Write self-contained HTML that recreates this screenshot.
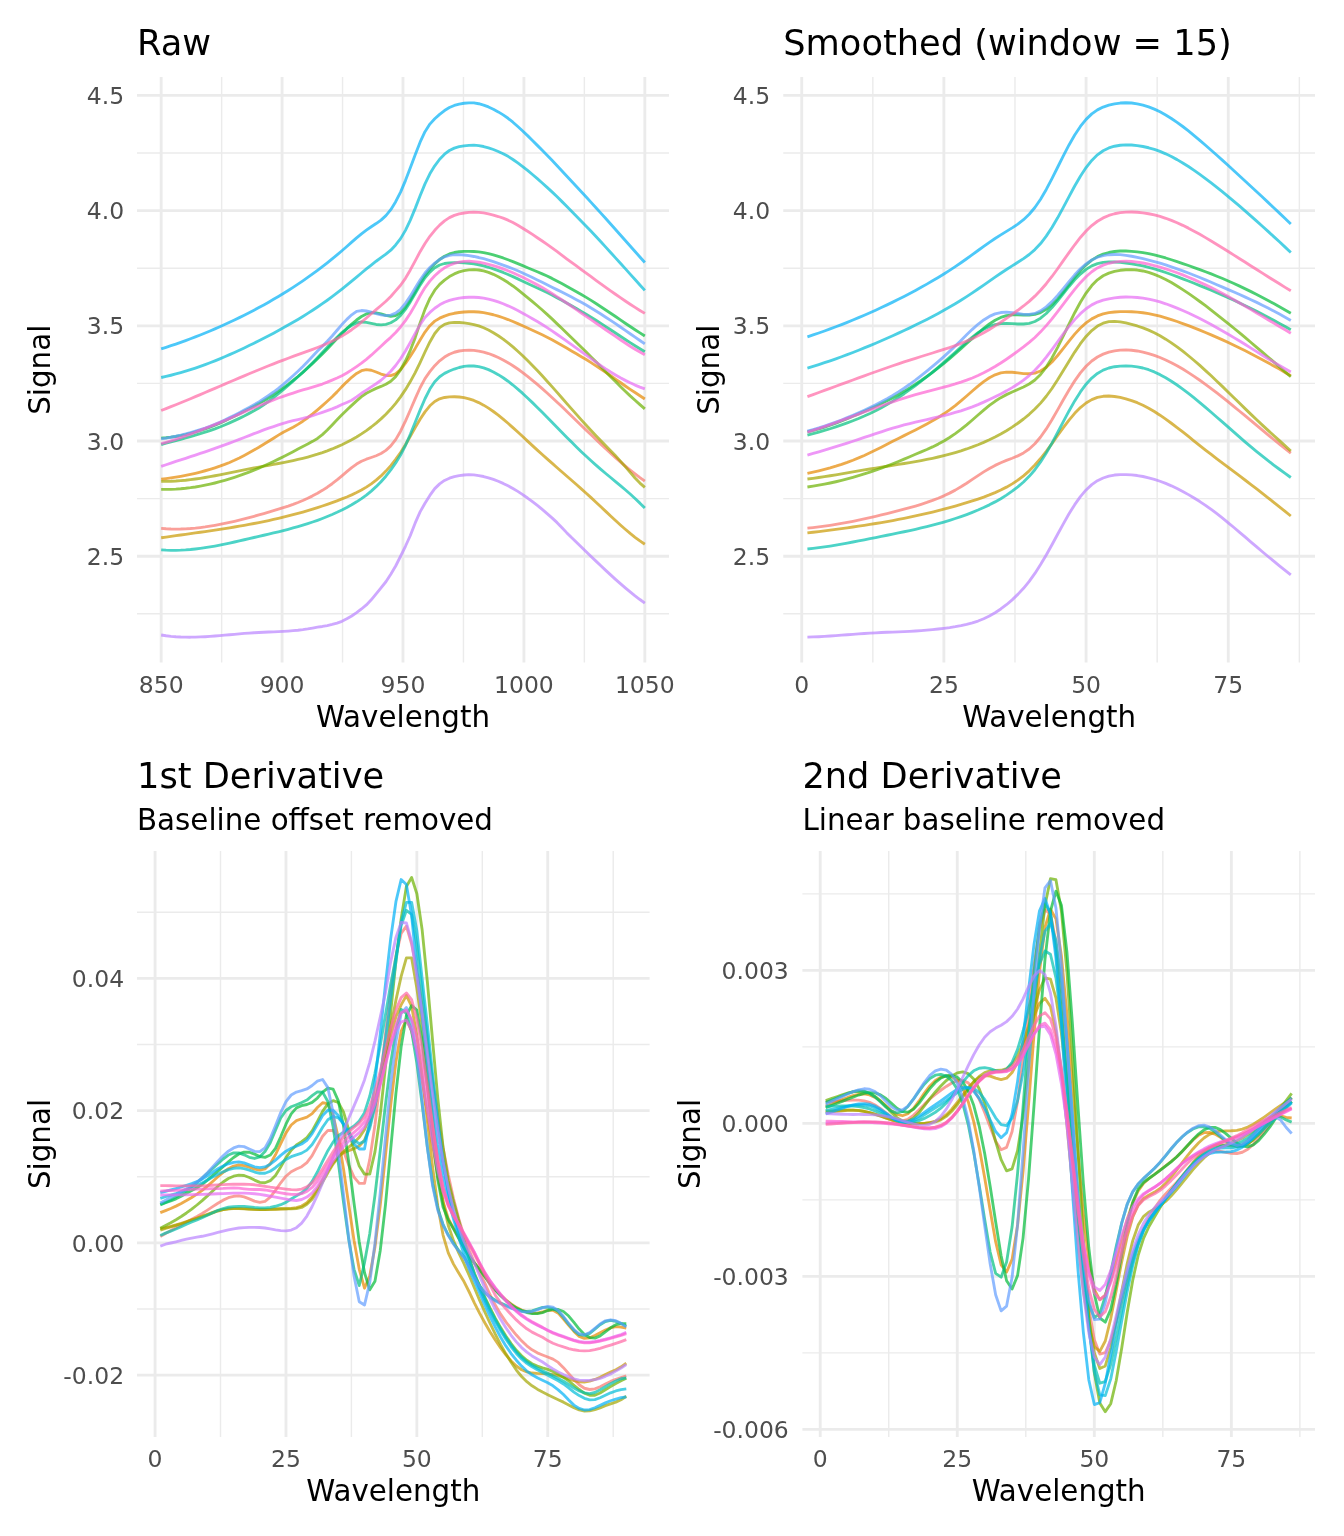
<!DOCTYPE html>
<html lang="en">
<head>
<meta charset="utf-8">
<title>Spectral preprocessing</title>
<style>
html,body{margin:0;padding:0;background:#fff;}
body{width:1344px;height:1536px;overflow:hidden;}
svg{display:block;}
text{font-family:"DejaVu Sans", "Liberation Sans", sans-serif;}
.t{font-size:35.2px;fill:#000;}
.st{font-size:29.33px;fill:#000;}
.at{font-size:29.33px;fill:#000;}
.ax{font-size:23.47px;fill:#4D4D4D;}
.gM{stroke:#EBEBEB;stroke-width:2.85;fill:none;}
.gm{stroke:#EBEBEB;stroke-width:1.42;fill:none;}
.ln{fill:none;stroke-width:2.85;stroke-opacity:0.7;stroke-linejoin:round;stroke-linecap:butt;}
</style>
</head>
<body>
<svg width="1344" height="1536" viewBox="0 0 1344 1536">
<rect width="1344" height="1536" fill="#fff"/>
<g id="raw">
<path class="gm" d="M137 613.8H669M137 498.6H669M137 383.4H669M137 268.2H669M137 153H669M221.64 77V662.5M342.55 77V662.5M463.45 77V662.5M584.36 77V662.5"/>
<path class="gM" d="M137 556.2H669M137 441H669M137 325.8H669M137 210.6H669M137 95.4H669M161.18 77V662.5M282.09 77V662.5M403 77V662.5M523.91 77V662.5M644.82 77V662.5"/>
<polyline class="ln" stroke="#F8766D" points="161.18,528.42 166.07,528.78 170.95,529 175.84,529.07 180.72,529.01 185.61,528.82 190.49,528.51 195.38,528.09 200.26,527.55 205.15,526.92 210.03,526.18 214.92,525.36 219.8,524.45 224.69,523.47 229.57,522.41 234.46,521.29 239.35,520.1 244.23,518.87 249.12,517.58 254,516.26 258.89,514.9 263.77,513.51 268.66,512.1 273.54,510.67 278.43,509.2 283.31,507.66 288.2,506.05 293.08,504.32 297.97,502.46 302.85,500.45 307.74,498.25 312.62,495.85 317.51,493.22 322.39,490.34 327.28,487.19 332.16,483.73 337.05,479.95 341.93,475.87 346.82,471.68 351.71,467.67 356.59,464.1 361.48,461.26 366.36,459.19 371.25,457.49 376.13,455.73 381.02,453.5 385.9,450.35 390.79,445.86 395.67,439.6 400.56,431.22 405.44,421.1 410.33,409.98 415.21,398.63 420.1,387.77 424.98,378.64 429.87,371.63 434.75,365.65 439.64,360.77 444.52,357.02 449.41,354.22 454.29,352.25 459.18,351 464.07,350.35 468.95,350.17 473.84,350.4 478.72,351.04 483.61,352.08 488.49,353.51 493.38,355.34 498.26,357.5 503.15,359.96 508.03,362.7 512.92,365.72 517.8,369.01 522.69,372.57 527.57,376.36 532.46,380.32 537.34,384.42 542.23,388.65 547.11,392.99 552,397.44 556.88,401.97 561.77,406.58 566.65,411.24 571.54,415.94 576.43,420.66 581.31,425.4 586.2,430.13 591.08,434.84 595.97,439.52 600.85,444.15 605.74,448.72 610.62,453.21 615.51,457.6 620.39,461.88 625.28,466.04 630.16,470.06 635.05,473.93 639.93,477.62 644.82,481.14"/>
<polyline class="ln" stroke="#E58700" points="161.18,479.19 166.07,478.62 170.95,477.96 175.84,477.21 180.72,476.37 185.61,475.43 190.49,474.41 195.38,473.29 200.26,472.07 205.15,470.75 210.03,469.33 214.92,467.81 219.8,466.19 224.69,464.44 229.57,462.47 234.46,460.3 239.35,457.95 244.23,455.45 249.12,452.83 254,450.11 258.89,447.31 263.77,444.34 268.66,441.27 273.54,438.2 278.43,435.16 283.31,432.25 288.2,429.68 293.08,427.18 297.97,424.37 302.85,421.2 307.74,417.74 312.62,413.88 317.51,409.81 322.39,405.61 327.28,401.26 332.16,396.76 337.05,391.87 341.93,386.61 346.82,381.83 351.71,377.32 356.59,373.4 361.48,370.7 366.36,369.7 371.25,370.27 376.13,371.98 381.02,374.04 385.9,375.47 390.79,375.66 395.67,373.84 400.56,369.54 405.44,363.43 410.33,356.23 415.21,348.4 420.1,339.99 424.98,332.06 429.87,325.72 434.75,321.13 439.64,318.18 444.52,316.09 449.41,314.47 454.29,313.28 459.18,312.47 464.07,311.98 468.95,311.72 473.84,311.72 478.72,312.03 483.61,312.67 488.49,313.59 493.38,314.75 498.26,316.14 503.15,317.75 508.03,319.55 512.92,321.5 517.8,323.6 522.69,325.79 527.57,328.03 532.46,330.25 537.34,332.5 542.23,334.8 547.11,337.21 552,339.77 556.88,342.5 561.77,345.28 566.65,348.08 571.54,350.91 576.43,353.77 581.31,356.65 586.2,359.58 591.08,362.64 595.97,365.82 600.85,369.1 605.74,372.43 610.62,375.79 615.51,379.12 620.39,382.52 625.28,385.96 630.16,389.31 635.05,392.54 639.93,395.78 644.82,399.04"/>
<polyline class="ln" stroke="#C99800" points="161.18,537.76 166.07,537.06 170.95,536.37 175.84,535.69 180.72,535.01 185.61,534.32 190.49,533.64 195.38,532.95 200.26,532.25 205.15,531.55 210.03,530.83 214.92,530.1 219.8,529.36 224.69,528.59 229.57,527.81 234.46,527 239.35,526.17 244.23,525.31 249.12,524.42 254,523.5 258.89,522.55 263.77,521.56 268.66,520.53 273.54,519.46 278.43,518.34 283.31,517.19 288.2,515.98 293.08,514.72 297.97,513.41 302.85,512.05 307.74,510.63 312.62,509.15 317.51,507.61 322.39,506.01 327.28,504.34 332.16,502.6 337.05,500.79 341.93,498.91 346.82,496.95 351.71,494.86 356.59,492.57 361.48,490.01 366.36,487.14 371.25,483.87 376.13,480.15 381.02,475.91 385.9,471.08 390.79,465.61 395.67,459.43 400.56,452.46 405.44,444.67 410.33,436.22 415.21,427.6 420.1,419.32 424.98,411.87 429.87,405.77 434.75,401.46 439.64,398.85 444.52,397.48 449.41,396.89 454.29,396.73 459.18,396.97 464.07,397.66 468.95,398.8 473.84,400.44 478.72,402.58 483.61,405.16 488.49,408.16 493.38,411.51 498.26,415.18 503.15,419.11 508.03,423.26 512.92,427.58 517.8,432.03 522.69,436.55 527.57,441.11 532.46,445.65 537.34,450.13 542.23,454.54 547.11,458.89 552,463.19 556.88,467.47 561.77,471.72 566.65,475.98 571.54,480.24 576.43,484.52 581.31,488.85 586.2,493.22 591.08,497.66 595.97,502.18 600.85,506.76 605.74,511.37 610.62,515.97 615.51,520.51 620.39,524.96 625.28,529.26 630.16,533.38 635.05,537.28 639.93,540.91 644.82,544.24"/>
<polyline class="ln" stroke="#A3A500" points="161.18,481.31 166.07,481.35 170.95,481.25 175.84,481.02 180.72,480.67 185.61,480.22 190.49,479.66 195.38,479.02 200.26,478.29 205.15,477.5 210.03,476.65 214.92,475.75 219.8,474.81 224.69,473.85 229.57,472.86 234.46,471.86 239.35,470.87 244.23,469.89 249.12,468.92 254,467.99 258.89,467.09 263.77,466.2 268.66,465.31 273.54,464.42 278.43,463.51 283.31,462.57 288.2,461.59 293.08,460.55 297.97,459.45 302.85,458.28 307.74,457.01 312.62,455.64 317.51,454.17 322.39,452.57 327.28,450.83 332.16,448.95 337.05,446.92 341.93,444.71 346.82,442.32 351.71,439.74 356.59,436.93 361.48,433.88 366.36,430.58 371.25,426.99 376.13,423.1 381.02,418.88 385.9,414.22 390.79,409.06 395.67,403.31 400.56,396.86 405.44,389.65 410.33,381.58 415.21,372.57 420.1,362.54 424.98,351.98 429.87,341.94 434.75,333.52 439.64,327.68 444.52,324.33 449.41,322.8 454.29,322.42 459.18,322.53 464.07,322.89 468.95,323.55 473.84,324.55 478.72,325.95 483.61,327.78 488.49,330.05 493.38,332.72 498.26,335.76 503.15,339.16 508.03,342.89 512.92,346.91 517.8,351.21 522.69,355.74 527.57,360.5 532.46,365.45 537.34,370.57 542.23,375.83 547.11,381.2 552,386.66 556.88,392.18 561.77,397.74 566.65,403.32 571.54,408.89 576.43,414.42 581.31,419.89 586.2,425.27 591.08,430.54 595.97,435.68 600.85,440.7 605.74,445.68 610.62,450.69 615.51,455.81 620.39,461.11 625.28,466.67 630.16,472.4 635.05,477.99 639.93,483.07 644.82,487.31"/>
<polyline class="ln" stroke="#6BB100" points="161.18,489.42 166.07,489.44 170.95,489.34 175.84,489.11 180.72,488.76 185.61,488.28 190.49,487.69 195.38,486.98 200.26,486.15 205.15,485.21 210.03,484.16 214.92,483 219.8,481.74 224.69,480.37 229.57,478.9 234.46,477.33 239.35,475.67 244.23,473.91 249.12,472.06 254,470.12 258.89,468.09 263.77,465.98 268.66,463.78 273.54,461.51 278.43,459.15 283.31,456.72 288.2,454.22 293.08,451.64 297.97,449 302.85,446.43 307.74,444.05 312.62,441.37 317.51,438.42 322.39,434.6 327.28,429.98 332.16,424.89 337.05,419.84 341.93,414.78 346.82,409.97 351.71,405.4 356.59,400.9 361.48,396.69 366.36,393.24 371.25,390.74 376.13,388.38 381.02,386.45 385.9,384.23 390.79,381.2 395.67,376.6 400.56,369.81 405.44,361.04 410.33,350.33 415.21,337.66 420.1,322.86 424.98,309.36 429.87,298.39 434.75,290.17 439.64,284.43 444.52,280.08 449.41,276.58 454.29,273.89 459.18,271.92 464.07,270.6 468.95,269.84 473.84,269.61 478.72,269.98 483.61,270.93 488.49,272.39 493.38,274.32 498.26,276.68 503.15,279.44 508.03,282.55 512.92,285.97 517.8,289.64 522.69,293.53 527.57,297.56 532.46,301.63 537.34,305.78 542.23,310.03 547.11,314.39 552,318.91 556.88,323.6 561.77,328.33 566.65,333.07 571.54,337.81 576.43,342.57 581.31,347.32 586.2,352.08 591.08,356.93 595.97,361.86 600.85,366.83 605.74,371.81 610.62,376.74 615.51,381.59 620.39,386.42 625.28,391.22 630.16,395.85 635.05,400.27 639.93,404.6 644.82,408.86"/>
<polyline class="ln" stroke="#00BA38" points="161.18,438.18 166.07,437.76 170.95,437.2 175.84,436.48 180.72,435.59 185.61,434.53 190.49,433.3 195.38,431.93 200.26,430.44 205.15,428.84 210.03,427.09 214.92,425.19 219.8,423.12 224.69,420.88 229.57,418.56 234.46,416.18 239.35,413.74 244.23,411.26 249.12,408.75 254,406.21 258.89,403.61 263.77,400.73 268.66,397.74 273.54,394.69 278.43,391.41 283.31,387.92 288.2,384.28 293.08,380.46 297.97,376.49 302.85,372.34 307.74,367.98 312.62,363.42 317.51,358.69 322.39,353.87 327.28,348.94 332.16,343.83 337.05,338.59 341.93,333.53 346.82,328.65 351.71,324.06 356.59,319.98 361.48,316.52 366.36,313.91 371.25,312.77 376.13,312.84 381.02,313.97 385.9,315.4 390.79,316.24 395.67,315.63 400.56,312.73 405.44,307.32 410.33,300.08 415.21,291.73 420.1,283.05 424.98,275.3 429.87,269.14 434.75,263.86 439.64,259.49 444.52,256.2 449.41,253.93 454.29,252.51 459.18,251.74 464.07,251.41 468.95,251.33 473.84,251.48 478.72,251.93 483.61,252.69 488.49,253.69 493.38,254.92 498.26,256.35 503.15,257.97 508.03,259.74 512.92,261.63 517.8,263.63 522.69,265.68 527.57,267.74 532.46,269.74 537.34,271.75 542.23,273.83 547.11,276.02 552,278.39 556.88,280.95 561.77,283.57 566.65,286.24 571.54,288.96 576.43,291.71 581.31,294.51 586.2,297.36 591.08,300.35 595.97,303.47 600.85,306.69 605.74,309.97 610.62,313.27 615.51,316.55 620.39,319.89 625.28,323.26 630.16,326.55 635.05,329.7 639.93,332.84 644.82,336.01"/>
<polyline class="ln" stroke="#00BF7D" points="161.18,444.52 166.07,443.17 170.95,441.86 175.84,440.56 180.72,439.25 185.61,437.91 190.49,436.51 195.38,435.09 200.26,433.64 205.15,432.14 210.03,430.55 214.92,428.84 219.8,426.98 224.69,424.96 229.57,422.85 234.46,420.64 239.35,418.34 244.23,415.92 249.12,413.39 254,410.74 258.89,407.94 263.77,404.77 268.66,401.26 273.54,397.51 278.43,393.59 283.31,389.59 288.2,385.46 293.08,381.17 297.97,376.77 302.85,372.23 307.74,367.52 312.62,362.68 317.51,357.71 322.39,352.54 327.28,347.31 332.16,342.15 337.05,337.2 341.93,332.61 346.82,328.54 351.71,325.22 356.59,322.94 361.48,321.96 366.36,322.34 371.25,323.43 376.13,324.46 381.02,324.85 385.9,324.34 390.79,322.75 395.67,319.86 400.56,315.48 405.44,309.42 410.33,301.88 415.21,293.53 420.1,285.09 424.98,277.73 429.87,272.06 434.75,267.79 439.64,265.01 444.52,263.5 449.41,262.82 454.29,262.55 459.18,262.57 464.07,262.83 468.95,263.26 473.84,263.87 478.72,264.75 483.61,265.89 488.49,267.26 493.38,268.81 498.26,270.55 503.15,272.45 508.03,274.49 512.92,276.65 517.8,278.89 522.69,281.18 527.57,283.48 532.46,285.72 537.34,287.94 542.23,290.19 547.11,292.53 552,295.02 556.88,297.68 561.77,300.37 566.65,303.09 571.54,305.83 576.43,308.6 581.31,311.38 586.2,314.2 591.08,317.15 595.97,320.22 600.85,323.37 605.74,326.57 610.62,329.78 615.51,332.97 620.39,336.21 625.28,339.47 630.16,342.65 635.05,345.68 639.93,348.72 644.82,351.77"/>
<polyline class="ln" stroke="#00C0AF" points="161.18,549.85 166.07,550.16 170.95,550.32 175.84,550.33 180.72,550.19 185.61,549.92 190.49,549.52 195.38,549.01 200.26,548.4 205.15,547.7 210.03,546.9 214.92,546.04 219.8,545.1 224.69,544.11 229.57,543.07 234.46,541.99 239.35,540.89 244.23,539.76 249.12,538.63 254,537.49 258.89,536.36 263.77,535.24 268.66,534.1 273.54,532.95 278.43,531.77 283.31,530.55 288.2,529.29 293.08,527.98 297.97,526.61 302.85,525.16 307.74,523.64 312.62,522.02 317.51,520.31 322.39,518.49 327.28,516.55 332.16,514.49 337.05,512.29 341.93,509.95 346.82,507.46 351.71,504.77 356.59,501.83 361.48,498.6 366.36,495.04 371.25,491.08 376.13,486.68 381.02,481.74 385.9,476.19 390.79,469.94 395.67,462.93 400.56,455 405.44,445.51 410.33,434.34 415.21,422.25 420.1,410.11 424.98,398.76 429.87,389.05 434.75,381.75 439.64,376.75 444.52,373.4 449.41,370.99 454.29,369.04 459.18,367.5 464.07,366.44 468.95,365.92 473.84,365.98 478.72,366.64 483.61,367.89 488.49,369.66 493.38,371.92 498.26,374.63 503.15,377.75 508.03,381.23 512.92,385.03 517.8,389.12 522.69,393.44 527.57,397.96 532.46,402.63 537.34,407.42 542.23,412.29 547.11,417.23 552,422.2 556.88,427.19 561.77,432.18 566.65,437.14 571.54,442.06 576.43,446.9 581.31,451.66 586.2,456.3 591.08,460.81 595.97,465.17 600.85,469.37 605.74,473.47 610.62,477.52 615.51,481.55 620.39,485.62 625.28,489.76 630.16,494.04 635.05,498.48 639.93,503.14 644.82,508.06"/>
<polyline class="ln" stroke="#00BCD8" points="161.18,377.5 166.07,376.42 170.95,375.25 175.84,373.98 180.72,372.63 185.61,371.18 190.49,369.65 195.38,368.03 200.26,366.34 205.15,364.57 210.03,362.72 214.92,360.8 219.8,358.81 224.69,356.76 229.57,354.64 234.46,352.46 239.35,350.22 244.23,347.93 249.12,345.58 254,343.18 258.89,340.73 263.77,338.24 268.66,335.71 273.54,333.14 278.43,330.51 283.31,327.83 288.2,325.09 293.08,322.28 297.97,319.4 302.85,316.44 307.74,313.39 312.62,310.25 317.51,307.02 322.39,303.67 327.28,300.22 332.16,296.66 337.05,292.97 341.93,289.15 346.82,285.2 351.71,281.16 356.59,277.07 361.48,272.99 366.36,268.96 371.25,265.02 376.13,261.23 381.02,257.64 385.9,254.17 390.79,250.2 395.67,244.94 400.56,238.64 405.44,230.35 410.33,220.13 415.21,208.36 420.1,195.75 424.98,183.86 429.87,173.82 434.75,165.8 439.64,159.27 444.52,154.16 449.41,150.51 454.29,148.14 459.18,146.7 464.07,145.87 468.95,145.3 473.84,145.15 478.72,145.6 483.61,146.52 488.49,147.84 493.38,149.52 498.26,151.47 503.15,153.71 508.03,156.37 512.92,159.49 517.8,162.95 522.69,166.63 527.57,170.47 532.46,174.51 537.34,178.68 542.23,182.96 547.11,187.35 552,191.87 556.88,196.54 561.77,201.38 566.65,206.3 571.54,211.21 576.43,216.13 581.31,221.13 586.2,226.2 591.08,231.35 595.97,236.56 600.85,241.82 605.74,247.12 610.62,252.47 615.51,257.85 620.39,263.25 625.28,268.67 630.16,274.1 635.05,279.54 639.93,284.96 644.82,290.38"/>
<polyline class="ln" stroke="#00B0F6" points="161.18,348.9 166.07,347.33 170.95,345.71 175.84,344.04 180.72,342.32 185.61,340.56 190.49,338.75 195.38,336.88 200.26,334.96 205.15,332.99 210.03,330.97 214.92,328.89 219.8,326.76 224.69,324.57 229.57,322.32 234.46,320.01 239.35,317.64 244.23,315.22 249.12,312.73 254,310.18 258.89,307.56 263.77,304.88 268.66,302.14 273.54,299.33 278.43,296.45 283.31,293.49 288.2,290.45 293.08,287.33 297.97,284.12 302.85,280.83 307.74,277.44 312.62,273.95 317.51,270.35 322.39,266.66 327.28,262.85 332.16,258.93 337.05,254.89 341.93,250.73 346.82,246.46 351.71,242.15 356.59,237.91 361.48,233.86 366.36,230.1 371.25,226.73 376.13,223.57 381.02,220.07 385.9,215.64 390.79,209.71 395.67,201.7 400.56,192.1 405.44,180.57 410.33,167.77 415.21,154.65 420.1,142.17 424.98,131.71 429.87,124.1 434.75,118.77 439.64,114.34 444.52,110.52 449.41,107.56 454.29,105.47 459.18,104.09 464.07,103.27 468.95,102.83 473.84,102.92 478.72,103.72 483.61,105.09 488.49,106.95 493.38,109.24 498.26,111.88 503.15,114.85 508.03,118.28 512.92,122.2 517.8,126.48 522.69,130.98 527.57,135.65 532.46,140.47 537.34,145.37 542.23,150.31 547.11,155.3 552,160.35 556.88,165.5 561.77,170.76 566.65,176.06 571.54,181.3 576.43,186.5 581.31,191.75 586.2,197.04 591.08,202.37 595.97,207.74 600.85,213.14 605.74,218.56 610.62,224.01 615.51,229.48 620.39,234.97 625.28,240.47 630.16,245.98 635.05,251.5 639.93,257.02 644.82,262.55"/>
<polyline class="ln" stroke="#619CFF" points="161.18,438.91 166.07,438.12 170.95,437.23 175.84,436.26 180.72,435.17 185.61,433.96 190.49,432.61 195.38,431.16 200.26,429.63 205.15,427.99 210.03,426.23 214.92,424.31 219.8,422.23 224.69,419.98 229.57,417.63 234.46,415.2 239.35,412.69 244.23,410.11 249.12,407.45 254,404.71 258.89,401.88 263.77,398.71 268.66,395.42 273.54,392.01 278.43,388.29 283.31,384.31 288.2,380.14 293.08,375.76 297.97,371.21 302.85,366.46 307.74,361.47 312.62,356.3 317.51,351.09 322.39,346.36 327.28,341.32 332.16,336.02 337.05,330.24 341.93,324.58 346.82,319.39 351.71,314.81 356.59,311.3 361.48,310.54 366.36,311 371.25,312.21 376.13,313.68 381.02,314.95 385.9,315.59 390.79,315.14 395.67,313.18 400.56,309.26 405.44,303.38 410.33,296.12 415.21,288.11 420.1,279.99 424.98,272.94 429.87,267.54 434.75,263.03 439.64,259.4 444.52,256.84 449.41,255.35 454.29,254.71 459.18,254.66 464.07,255.03 468.95,255.66 473.84,256.48 478.72,257.51 483.61,258.71 488.49,260.09 493.38,261.64 498.26,263.3 503.15,265.04 508.03,266.86 512.92,268.77 517.8,270.8 522.69,272.96 527.57,275.23 532.46,277.55 537.34,279.91 542.23,282.3 547.11,284.73 552,287.18 556.88,289.64 561.77,292.1 566.65,294.58 571.54,297.09 576.43,299.66 581.31,302.32 586.2,305.09 591.08,307.98 595.97,310.96 600.85,314.04 605.74,317.18 610.62,320.38 615.51,323.62 620.39,326.96 625.28,330.37 630.16,333.77 635.05,337.09 639.93,340.47 644.82,343.9"/>
<polyline class="ln" stroke="#B983FF" points="161.18,635.03 166.07,635.77 170.95,636.34 175.84,636.76 180.72,637.03 185.61,637.17 190.49,637.2 195.38,637.12 200.26,636.95 205.15,636.71 210.03,636.4 214.92,636.03 219.8,635.63 224.69,635.19 229.57,634.75 234.46,634.3 239.35,633.86 244.23,633.45 249.12,633.07 254,632.74 258.89,632.47 263.77,632.24 268.66,632.04 273.54,631.84 278.43,631.62 283.31,631.37 288.2,631.07 293.08,630.69 297.97,630.22 302.85,629.64 307.74,628.92 312.62,628.06 317.51,627.18 322.39,626.47 327.28,625.53 332.16,624.4 337.05,623.11 341.93,621.31 346.82,618.84 351.71,615.98 356.59,612.66 361.48,608.97 366.36,604.9 371.25,599.85 376.13,593.96 381.02,587.84 385.9,581.74 390.79,574.21 395.67,565.99 400.56,556.25 405.44,546.26 410.33,535.52 415.21,522.91 420.1,511.91 424.98,503.2 429.87,495.43 434.75,488.63 439.64,483.86 444.52,480.45 449.41,478.19 454.29,476.62 459.18,475.56 464.07,475 468.95,474.7 473.84,474.92 478.72,475.54 483.61,476.51 488.49,477.81 493.38,479.42 498.26,481.29 503.15,483.43 508.03,485.82 512.92,488.48 517.8,491.4 522.69,494.59 527.57,498.03 532.46,501.67 537.34,505.48 542.23,509.47 547.11,513.61 552,517.88 556.88,522.39 561.77,527.43 566.65,532.63 571.54,537.58 576.43,542.26 581.31,546.97 586.2,551.69 591.08,556.41 595.97,561.11 600.85,565.77 605.74,570.37 610.62,574.89 615.51,579.33 620.39,583.66 625.28,587.86 630.16,591.91 635.05,595.81 639.93,599.52 644.82,603.05"/>
<polyline class="ln" stroke="#E76BF3" points="161.18,466.43 166.07,464.76 170.95,463.07 175.84,461.36 180.72,459.84 185.61,458.3 190.49,456.71 195.38,455.08 200.26,453.44 205.15,451.79 210.03,450.12 214.92,448.42 219.8,446.7 224.69,444.94 229.57,443.12 234.46,441.27 239.35,439.38 244.23,437.48 249.12,435.58 254,433.69 258.89,431.83 263.77,429.89 268.66,428.12 273.54,426.53 278.43,424.91 283.31,423.31 288.2,421.93 293.08,420.74 297.97,419.64 302.85,418.46 307.74,417.08 312.62,415.54 317.51,414.01 322.39,412.4 327.28,410.68 332.16,408.85 337.05,406.88 341.93,404.56 346.82,402.44 351.71,400.21 356.59,396.91 361.48,393.31 366.36,390.11 371.25,386.89 376.13,383.71 381.02,380.28 385.9,376.03 390.79,371.21 395.67,365.5 400.56,358.74 405.44,350.94 410.33,342.37 415.21,333.44 420.1,324.59 424.98,317.46 429.87,312.43 434.75,308.27 439.64,304.84 444.52,302.25 449.41,300.39 454.29,299.05 459.18,298.11 464.07,297.52 468.95,297.22 473.84,297.22 478.72,297.52 483.61,298.14 488.49,299.08 493.38,300.36 498.26,301.94 503.15,303.77 508.03,305.82 512.92,308.07 517.8,310.52 522.69,313.14 527.57,315.88 532.46,318.67 537.34,321.54 542.23,324.5 547.11,327.6 552,330.84 556.88,334.22 561.77,337.67 566.65,341.15 571.54,344.64 576.43,348.13 581.31,351.61 586.2,355.06 591.08,358.57 595.97,362.09 600.85,365.56 605.74,368.9 610.62,372.05 615.51,374.98 620.39,377.76 625.28,380.38 630.16,382.82 635.05,385.08 639.93,387.13 644.82,388.95"/>
<polyline class="ln" stroke="#FD61D1" points="161.18,443.72 166.07,442.36 170.95,440.89 175.84,439.3 180.72,437.62 185.61,435.87 190.49,434.07 195.38,432.23 200.26,430.35 205.15,428.45 210.03,426.52 214.92,424.57 219.8,422.59 224.69,420.58 229.57,418.47 234.46,416.29 239.35,414.08 244.23,411.88 249.12,409.74 254,407.71 258.89,405.79 263.77,403.89 268.66,401.9 273.54,399.89 278.43,398.02 283.31,396.3 288.2,394.66 293.08,393.04 297.97,391.44 302.85,389.95 307.74,388.56 312.62,387.15 317.51,385.63 322.39,384.03 327.28,382.18 332.16,380.09 337.05,377.98 341.93,375.73 346.82,372.96 351.71,369.88 356.59,366.57 361.48,363.18 366.36,359.32 371.25,355.21 376.13,350.73 381.02,346.23 385.9,341.64 390.79,337.33 395.67,332.51 400.56,327 405.44,320.65 410.33,313.32 415.21,304.9 420.1,295.79 424.98,287.53 429.87,281.11 434.75,275.77 439.64,271.33 444.52,267.85 449.41,265.25 454.29,263.33 459.18,262.04 464.07,261.37 468.95,261.26 473.84,261.58 478.72,262.24 483.61,263.15 488.49,264.28 493.38,265.61 498.26,267.13 503.15,268.84 508.03,270.73 512.92,272.77 517.8,274.96 522.69,277.29 527.57,279.73 532.46,282.25 537.34,284.87 542.23,287.6 547.11,290.46 552,293.45 556.88,296.58 561.77,299.77 566.65,303.01 571.54,306.3 576.43,309.61 581.31,312.95 586.2,316.3 591.08,319.67 595.97,323.04 600.85,326.4 605.74,329.75 610.62,333.07 615.51,336.36 620.39,339.7 625.28,343.05 630.16,346.25 635.05,349.22 639.93,352.08 644.82,354.84"/>
<polyline class="ln" stroke="#FF67A4" points="161.18,410.49 166.07,408.6 170.95,406.67 175.84,404.71 180.72,402.73 185.61,400.72 190.49,398.7 195.38,396.65 200.26,394.59 205.15,392.51 210.03,390.43 214.92,388.34 219.8,386.25 224.69,384.15 229.57,382.06 234.46,379.97 239.35,377.9 244.23,375.83 249.12,373.78 254,371.74 258.89,369.73 263.77,367.74 268.66,365.77 273.54,363.83 278.43,361.93 283.31,360.06 288.2,358.23 293.08,356.44 297.97,354.69 302.85,352.96 307.74,351.21 312.62,349.41 317.51,347.54 322.39,345.56 327.28,343.45 332.16,341.16 337.05,338.67 341.93,335.95 346.82,332.97 351.71,329.7 356.59,326.1 361.48,322.17 366.36,318.02 371.25,313.78 376.13,309.62 381.02,305.52 385.9,301.25 390.79,296.48 395.67,290.93 400.56,285.27 405.44,278.33 410.33,269.95 415.21,260.83 420.1,251.7 424.98,243.47 429.87,236.3 434.75,230.29 439.64,225.13 444.52,220.84 449.41,217.62 454.29,215.38 459.18,213.9 464.07,212.98 468.95,212.34 473.84,212.07 478.72,212.31 483.61,212.93 488.49,213.87 493.38,215.09 498.26,216.51 503.15,218.16 508.03,220.16 512.92,222.59 517.8,225.3 522.69,228.2 527.57,231.24 532.46,234.42 537.34,237.7 542.23,241.03 547.11,244.43 552,247.89 556.88,251.45 561.77,255.11 566.65,258.8 571.54,262.42 576.43,265.97 581.31,269.54 586.2,273.13 591.08,276.71 595.97,280.28 600.85,283.83 605.74,287.35 610.62,290.83 615.51,294.27 620.39,297.65 625.28,300.96 630.16,304.2 635.05,307.36 639.93,310.42 644.82,313.38"/>
<text class="t" x="137" y="55">Raw</text>
<text class="ax" text-anchor="end" x="124.1" y="565">2.5</text>
<text class="ax" text-anchor="end" x="124.1" y="450">3.0</text>
<text class="ax" text-anchor="end" x="124.1" y="334">3.5</text>
<text class="ax" text-anchor="end" x="124.1" y="219">4.0</text>
<text class="ax" text-anchor="end" x="124.1" y="104">4.5</text>
<text class="ax" text-anchor="middle" x="161.18" y="693">850</text>
<text class="ax" text-anchor="middle" x="282.09" y="693">900</text>
<text class="ax" text-anchor="middle" x="403" y="693">950</text>
<text class="ax" text-anchor="middle" x="523.91" y="693">1000</text>
<text class="ax" text-anchor="middle" x="644.82" y="693">1050</text>
<text class="at" text-anchor="middle" x="403" y="727">Wavelength</text>
<text class="at" text-anchor="middle" transform="translate(50 369.75) rotate(-90)">Signal</text>
</g>
<g id="smooth">
<path class="gm" d="M783.25 613.8H1315M783.25 498.6H1315M783.25 383.4H1315M783.25 268.2H1315M783.25 153H1315M872.82 77V662.5M1014.99 77V662.5M1157.17 77V662.5M1299.34 77V662.5"/>
<path class="gM" d="M783.25 556.2H1315M783.25 441H1315M783.25 325.8H1315M783.25 210.6H1315M783.25 95.4H1315M801.73 77V662.5M943.9 77V662.5M1086.08 77V662.5M1228.26 77V662.5"/>
<polyline class="ln" stroke="#F8766D" points="807.42,528.09 813.1,527.55 818.79,526.92 824.48,526.18 830.16,525.36 835.85,524.45 841.54,523.47 847.23,522.41 852.91,521.29 858.6,520.1 864.29,518.87 869.97,517.59 875.66,516.28 881.35,514.94 887.04,513.56 892.72,512.16 898.41,510.72 904.1,509.24 909.78,507.69 915.47,506.06 921.16,504.32 926.84,502.46 932.53,500.45 938.22,498.25 943.9,495.82 949.59,493.13 955.28,490.13 960.97,486.81 966.65,483.21 972.34,479.42 978.03,475.6 983.71,471.9 989.4,468.46 995.09,465.39 1000.78,462.72 1006.46,460.39 1012.15,458.22 1017.84,455.87 1023.52,452.94 1029.21,449.03 1034.9,443.79 1040.58,437.03 1046.27,428.91 1051.96,419.72 1057.64,409.86 1063.33,399.77 1069.02,389.96 1074.71,380.88 1080.39,372.89 1086.08,366.23 1091.77,360.96 1097.45,356.98 1103.14,354.11 1108.83,352.14 1114.52,350.84 1120.2,350.11 1125.89,349.94 1131.58,350.24 1137.26,350.97 1142.95,352.07 1148.64,353.53 1154.32,355.34 1160.01,357.47 1165.7,359.94 1171.38,362.7 1177.07,365.75 1182.76,369.06 1188.45,372.6 1194.13,376.34 1199.82,380.28 1205.51,384.38 1211.19,388.62 1216.88,392.98 1222.57,397.44 1228.26,401.97 1233.94,406.58 1239.63,411.24 1245.32,415.94 1251,420.66 1256.69,425.4 1262.38,430.13 1268.06,434.84 1273.75,439.52 1279.44,444.15 1285.12,448.72 1290.81,453.21"/>
<polyline class="ln" stroke="#E58700" points="807.42,473.3 813.1,472.09 818.79,470.79 824.48,469.38 830.16,467.84 835.85,466.16 841.54,464.33 847.23,462.35 852.91,460.22 858.6,457.92 864.29,455.46 869.97,452.83 875.66,450.05 881.35,447.15 887.04,444.23 892.72,441.32 898.41,438.44 904.1,435.61 909.78,432.78 915.47,429.93 921.16,427.01 926.84,423.98 932.53,420.82 938.22,417.46 943.9,413.82 949.59,409.84 955.28,405.53 960.97,400.9 966.65,396.03 972.34,391.04 978.03,386.14 983.71,381.61 989.4,377.75 995.09,374.79 1000.78,372.9 1006.46,372.12 1012.15,372.24 1017.84,372.89 1023.52,373.55 1029.21,373.78 1034.9,373.08 1040.58,370.98 1046.27,367.25 1051.96,361.98 1057.64,355.51 1063.33,348.36 1069.02,341.08 1074.71,334.15 1080.39,328.01 1086.08,322.89 1091.77,318.88 1097.45,315.92 1103.14,313.91 1108.83,312.7 1114.52,312.04 1120.2,311.7 1125.89,311.6 1131.58,311.72 1137.26,312.09 1142.95,312.73 1148.64,313.63 1154.32,314.78 1160.01,316.17 1165.7,317.78 1171.38,319.57 1177.07,321.5 1182.76,323.54 1188.45,325.66 1194.13,327.86 1199.82,330.13 1205.51,332.47 1211.19,334.87 1216.88,337.35 1222.57,339.9 1228.26,342.52 1233.94,345.21 1239.63,347.97 1245.32,350.8 1251,353.7 1256.69,356.66 1262.38,359.68 1268.06,362.75 1273.75,365.9 1279.44,369.13 1285.12,372.43 1290.81,375.77"/>
<polyline class="ln" stroke="#C99800" points="807.42,532.95 813.1,532.25 818.79,531.55 824.48,530.83 830.16,530.1 835.85,529.36 841.54,528.59 847.23,527.81 852.91,527 858.6,526.17 864.29,525.31 869.97,524.42 875.66,523.5 881.35,522.55 887.04,521.56 892.72,520.53 898.41,519.46 904.1,518.34 909.78,517.19 915.47,515.98 921.16,514.72 926.84,513.41 932.53,512.05 938.22,510.63 943.9,509.15 949.59,507.62 955.28,506.03 960.97,504.38 966.65,502.68 972.34,500.91 978.03,499.05 983.71,497.07 989.4,494.94 995.09,492.62 1000.78,490.04 1006.46,487.14 1012.15,483.87 1017.84,480.13 1023.52,475.81 1029.21,470.81 1034.9,465.06 1040.58,458.55 1046.27,451.32 1051.96,443.54 1057.64,435.51 1063.33,427.56 1069.02,420.07 1074.71,413.33 1080.39,407.58 1086.08,402.99 1091.77,399.62 1097.45,397.43 1103.14,396.29 1108.83,396.03 1114.52,396.47 1120.2,397.43 1125.89,398.81 1131.58,400.56 1137.26,402.7 1142.95,405.25 1148.64,408.2 1154.32,411.53 1160.01,415.18 1165.7,419.11 1171.38,423.25 1177.07,427.57 1182.76,431.99 1188.45,436.49 1194.13,441.01 1199.82,445.52 1205.51,450.01 1211.19,454.45 1216.88,458.83 1222.57,463.17 1228.26,467.46 1233.94,471.72 1239.63,475.98 1245.32,480.25 1251,484.55 1256.69,488.9 1262.38,493.31 1268.06,497.77 1273.75,502.29 1279.44,506.85 1285.12,511.43 1290.81,516"/>
<polyline class="ln" stroke="#A3A500" points="807.42,479.02 813.1,478.29 818.79,477.5 824.48,476.65 830.16,475.75 835.85,474.81 841.54,473.85 847.23,472.86 852.91,471.88 858.6,470.89 864.29,469.92 869.97,468.97 875.66,468.04 881.35,467.12 887.04,466.22 892.72,465.32 898.41,464.43 904.1,463.51 909.78,462.57 915.47,461.59 921.16,460.55 926.84,459.45 932.53,458.28 938.22,457.01 943.9,455.64 949.59,454.17 955.28,452.57 960.97,450.84 966.65,448.97 972.34,446.93 978.03,444.73 983.71,442.34 989.4,439.76 995.09,436.96 1000.78,433.94 1006.46,430.67 1012.15,427.12 1017.84,423.24 1023.52,418.99 1029.21,414.3 1034.9,409.06 1040.58,403.11 1046.27,396.28 1051.96,388.49 1057.64,379.84 1063.33,370.6 1069.02,361.2 1074.71,352.11 1080.39,343.74 1086.08,336.46 1091.77,330.52 1097.45,326.07 1103.14,323.15 1108.83,321.65 1114.52,321.34 1120.2,321.88 1125.89,322.96 1131.58,324.35 1137.26,325.99 1142.95,327.91 1148.64,330.15 1154.32,332.78 1160.01,335.79 1165.7,339.17 1171.38,342.89 1177.07,346.91 1182.76,351.2 1188.45,355.74 1194.13,360.5 1199.82,365.45 1205.51,370.57 1211.19,375.82 1216.88,381.19 1222.57,386.65 1228.26,392.18 1233.94,397.74 1239.63,403.32 1245.32,408.87 1251,414.37 1256.69,419.79 1262.38,425.12 1268.06,430.34 1273.75,435.48 1279.44,440.6 1285.12,445.76 1290.81,451.02"/>
<polyline class="ln" stroke="#6BB100" points="807.42,486.98 813.1,486.15 818.79,485.21 824.48,484.16 830.16,483 835.85,481.74 841.54,480.37 847.23,478.9 852.91,477.33 858.6,475.67 864.29,473.91 869.97,472.06 875.66,470.12 881.35,468.09 887.04,465.98 892.72,463.77 898.41,461.47 904.1,459.1 909.78,456.7 915.47,454.31 921.16,451.93 926.84,449.51 932.53,446.92 938.22,444.1 943.9,440.96 949.59,437.47 955.28,433.63 960.97,429.43 966.65,424.88 972.34,420.03 978.03,415.04 983.71,410.12 989.4,405.46 995.09,401.28 1000.78,397.66 1006.46,394.62 1012.15,391.99 1017.84,389.55 1023.52,387.01 1029.21,384.03 1034.9,380.03 1040.58,374.47 1046.27,367.07 1051.96,357.89 1057.64,347.32 1063.33,335.86 1069.02,324.13 1074.71,312.73 1080.39,302.24 1086.08,293.11 1091.77,285.61 1097.45,279.84 1103.14,275.75 1108.83,273.09 1114.52,271.36 1120.2,270.28 1125.89,269.71 1131.58,269.61 1137.26,270.04 1142.95,270.99 1148.64,272.43 1154.32,274.35 1160.01,276.71 1165.7,279.47 1171.38,282.58 1177.07,285.97 1182.76,289.59 1188.45,293.4 1194.13,297.38 1199.82,301.49 1205.51,305.73 1211.19,310.07 1216.88,314.51 1222.57,319.02 1228.26,323.61 1233.94,328.26 1239.63,332.96 1245.32,337.71 1251,342.5 1256.69,347.33 1262.38,352.18 1268.06,357.04 1273.75,361.94 1279.44,366.87 1285.12,371.8 1290.81,376.72"/>
<polyline class="ln" stroke="#00BA38" points="807.42,431.97 813.1,430.48 818.79,428.83 824.48,427.03 830.16,425.1 835.85,423.04 841.54,420.87 847.23,418.61 852.91,416.27 858.6,413.86 864.29,411.38 869.97,408.84 875.66,406.22 881.35,403.51 887.04,400.69 892.72,397.74 898.41,394.63 904.1,391.36 909.78,387.92 915.47,384.28 921.16,380.46 926.84,376.46 932.53,372.28 938.22,367.91 943.9,363.35 949.59,358.61 955.28,353.7 960.97,348.66 966.65,343.53 972.34,338.36 978.03,333.27 983.71,328.4 989.4,324 995.09,320.28 1000.78,317.47 1006.46,315.69 1012.15,314.89 1017.84,314.78 1023.52,314.99 1029.21,315.02 1034.9,314.35 1040.58,312.52 1046.27,309.34 1051.96,304.74 1057.64,298.87 1063.33,292.03 1069.02,284.69 1074.71,277.38 1080.39,270.62 1086.08,264.81 1091.77,260.14 1097.45,256.62 1103.14,254.13 1108.83,252.51 1114.52,251.51 1120.2,251.02 1125.89,250.98 1131.58,251.3 1137.26,251.89 1142.95,252.7 1148.64,253.72 1154.32,254.95 1160.01,256.38 1165.7,257.99 1171.38,259.75 1177.07,261.61 1182.76,263.54 1188.45,265.51 1194.13,267.54 1199.82,269.61 1205.51,271.74 1211.19,273.93 1216.88,276.2 1222.57,278.55 1228.26,280.99 1233.94,283.52 1239.63,286.14 1245.32,288.85 1251,291.65 1256.69,294.52 1262.38,297.46 1268.06,300.46 1273.75,303.55 1279.44,306.72 1285.12,309.96 1290.81,313.25"/>
<polyline class="ln" stroke="#00BF7D" points="807.42,435.14 813.1,433.67 818.79,432.12 824.48,430.49 830.16,428.75 835.85,426.91 841.54,424.95 847.23,422.9 852.91,420.74 858.6,418.46 864.29,416.03 869.97,413.44 875.66,410.67 881.35,407.7 887.04,404.52 892.72,401.13 898.41,397.52 904.1,393.71 909.78,389.7 915.47,385.53 921.16,381.21 926.84,376.75 932.53,372.14 938.22,367.37 943.9,362.44 949.59,357.37 955.28,352.2 960.97,346.99 966.65,341.87 972.34,337.02 978.03,332.69 983.71,329.1 989.4,326.38 995.09,324.59 1000.78,323.64 1006.46,323.39 1012.15,323.61 1017.84,323.96 1023.52,324.01 1029.21,323.33 1034.9,321.49 1040.58,318.21 1046.27,313.5 1051.96,307.57 1057.64,300.79 1063.33,293.6 1069.02,286.48 1074.71,279.84 1080.39,274.04 1086.08,269.36 1091.77,265.9 1097.45,263.63 1103.14,262.39 1108.83,261.93 1114.52,261.99 1120.2,262.39 1125.89,263.03 1131.58,263.84 1137.26,264.81 1142.95,265.96 1148.64,267.3 1154.32,268.84 1160.01,270.58 1165.7,272.48 1171.38,274.52 1177.07,276.64 1182.76,278.82 1188.45,281.04 1194.13,283.29 1199.82,285.58 1205.51,287.91 1211.19,290.27 1216.88,292.69 1222.57,295.17 1228.26,297.71 1233.94,300.32 1239.63,302.99 1245.32,305.73 1251,308.53 1256.69,311.39 1262.38,314.3 1268.06,317.27 1273.75,320.3 1279.44,323.4 1285.12,326.56 1290.81,329.76"/>
<polyline class="ln" stroke="#00C0AF" points="807.42,549.01 813.1,548.4 818.79,547.7 824.48,546.9 830.16,546.04 835.85,545.1 841.54,544.11 847.23,543.07 852.91,542 858.6,540.9 864.29,539.79 869.97,538.66 875.66,537.53 881.35,536.4 887.04,535.26 892.72,534.11 898.41,532.95 904.1,531.77 909.78,530.55 915.47,529.29 921.16,527.98 926.84,526.61 932.53,525.16 938.22,523.64 943.9,522.02 949.59,520.31 955.28,518.5 960.97,516.58 966.65,514.54 972.34,512.36 978.03,510.04 983.71,507.54 989.4,504.84 995.09,501.89 1000.78,498.67 1006.46,495.11 1012.15,491.2 1017.84,486.88 1023.52,481.99 1029.21,476.33 1034.9,469.7 1040.58,461.96 1046.27,453.07 1051.96,443.14 1057.64,432.51 1063.33,421.62 1069.02,410.93 1074.71,400.9 1080.39,391.89 1086.08,384.2 1091.77,378.03 1097.45,373.39 1103.14,370.12 1108.83,367.99 1114.52,366.73 1120.2,366.09 1125.89,365.9 1131.58,366.12 1137.26,366.81 1142.95,368 1148.64,369.72 1154.32,371.95 1160.01,374.64 1165.7,377.75 1171.38,381.23 1177.07,385.03 1182.76,389.11 1188.45,393.42 1194.13,397.92 1199.82,402.59 1205.51,407.38 1211.19,412.26 1216.88,417.21 1222.57,422.19 1228.26,427.19 1233.94,432.18 1239.63,437.14 1245.32,442.05 1251,446.87 1256.69,451.59 1262.38,456.2 1268.06,460.68 1273.75,465.03 1279.44,469.26 1285.12,473.4 1290.81,477.48"/>
<polyline class="ln" stroke="#00BCD8" points="807.42,368.03 813.1,366.34 818.79,364.57 824.48,362.72 830.16,360.8 835.85,358.81 841.54,356.76 847.23,354.64 852.91,352.46 858.6,350.22 864.29,347.93 869.97,345.58 875.66,343.19 881.35,340.75 887.04,338.26 892.72,335.73 898.41,333.15 904.1,330.52 909.78,327.84 915.47,325.09 921.16,322.28 926.84,319.4 932.53,316.44 938.22,313.39 943.9,310.25 949.59,307.01 955.28,303.66 960.97,300.19 966.65,296.59 972.34,292.87 978.03,289.03 983.71,285.1 989.4,281.09 995.09,277.1 1000.78,273.23 1006.46,269.48 1012.15,265.86 1017.84,262.31 1023.52,258.61 1029.21,254.49 1034.9,249.57 1040.58,243.51 1046.27,236.14 1051.96,227.52 1057.64,217.84 1063.33,207.39 1069.02,196.62 1074.71,186.05 1080.39,176.23 1086.08,167.57 1091.77,160.4 1097.45,154.81 1103.14,150.74 1108.83,147.98 1114.52,146.23 1120.2,145.24 1125.89,144.87 1131.58,145.01 1137.26,145.57 1142.95,146.49 1148.64,147.76 1154.32,149.39 1160.01,151.42 1165.7,153.82 1171.38,156.57 1177.07,159.62 1182.76,162.96 1188.45,166.55 1194.13,170.37 1199.82,174.39 1205.51,178.59 1211.19,182.93 1216.88,187.38 1222.57,191.94 1228.26,196.6 1233.94,201.36 1239.63,206.2 1245.32,211.11 1251,216.09 1256.69,221.14 1262.38,226.24 1268.06,231.38 1273.75,236.58 1279.44,241.82 1285.12,247.12 1290.81,252.47"/>
<polyline class="ln" stroke="#00B0F6" points="807.42,336.88 813.1,334.96 818.79,332.99 824.48,330.97 830.16,328.89 835.85,326.76 841.54,324.57 847.23,322.32 852.91,320.01 858.6,317.64 864.29,315.22 869.97,312.73 875.66,310.18 881.35,307.57 887.04,304.89 892.72,302.15 898.41,299.33 904.1,296.45 909.78,293.49 915.47,290.45 921.16,287.33 926.84,284.12 932.53,280.83 938.22,277.44 943.9,273.95 949.59,270.35 955.28,266.63 960.97,262.78 966.65,258.79 972.34,254.69 978.03,250.51 983.71,246.35 989.4,242.31 995.09,238.48 1000.78,234.87 1006.46,231.4 1012.15,227.9 1017.84,224.12 1023.52,219.69 1029.21,214.27 1034.9,207.5 1040.58,199.2 1046.27,189.45 1051.96,178.63 1057.64,167.25 1063.33,155.85 1069.02,144.94 1074.71,135.01 1080.39,126.42 1086.08,119.36 1091.77,113.9 1097.45,109.88 1103.14,107.05 1108.83,105.13 1114.52,103.84 1120.2,103.04 1125.89,102.75 1131.58,103.03 1137.26,103.83 1142.95,105.12 1148.64,106.89 1154.32,109.12 1160.01,111.83 1165.7,114.97 1171.38,118.49 1177.07,122.35 1182.76,126.5 1188.45,130.91 1194.13,135.52 1199.82,140.31 1205.51,145.23 1211.19,150.24 1216.88,155.3 1222.57,160.41 1228.26,165.56 1233.94,170.74 1239.63,175.96 1245.32,181.2 1251,186.47 1256.69,191.76 1262.38,197.08 1268.06,202.41 1273.75,207.76 1279.44,213.14 1285.12,218.56 1290.81,224.01"/>
<polyline class="ln" stroke="#619CFF" points="807.42,431.21 813.1,429.66 818.79,427.98 824.48,426.16 830.16,424.22 835.85,422.16 841.54,419.97 847.23,417.68 852.91,415.29 858.6,412.8 864.29,410.21 869.97,407.52 875.66,404.72 881.35,401.79 887.04,398.68 892.72,395.4 898.41,391.91 904.1,388.21 909.78,384.28 915.47,380.07 921.16,375.66 926.84,371.09 932.53,366.39 938.22,361.55 943.9,356.56 949.59,351.4 955.28,346.05 960.97,340.47 966.65,334.81 972.34,329.33 978.03,324.29 983.71,319.93 989.4,316.42 995.09,313.91 1000.78,312.51 1006.46,312.16 1012.15,312.65 1017.84,313.53 1023.52,314.32 1029.21,314.47 1034.9,313.46 1040.58,310.9 1046.27,306.9 1051.96,301.64 1057.64,295.41 1063.33,288.57 1069.02,281.56 1074.71,274.84 1080.39,268.82 1086.08,263.81 1091.77,259.96 1097.45,257.25 1103.14,255.57 1108.83,254.71 1114.52,254.46 1120.2,254.68 1125.89,255.31 1131.58,256.25 1137.26,257.39 1142.95,258.68 1148.64,260.08 1154.32,261.59 1160.01,263.23 1165.7,264.98 1171.38,266.84 1177.07,268.81 1182.76,270.87 1188.45,273.01 1194.13,275.23 1199.82,277.53 1205.51,279.88 1211.19,282.27 1216.88,284.69 1222.57,287.13 1228.26,289.57 1233.94,292.04 1239.63,294.54 1245.32,297.1 1251,299.71 1256.69,302.4 1262.38,305.17 1268.06,308.03 1273.75,310.98 1279.44,314.04 1285.12,317.18 1290.81,320.39"/>
<polyline class="ln" stroke="#B983FF" points="807.42,637.12 813.1,636.95 818.79,636.71 824.48,636.4 830.16,636.03 835.85,635.63 841.54,635.19 847.23,634.75 852.91,634.31 858.6,633.89 864.29,633.49 869.97,633.13 875.66,632.81 881.35,632.53 887.04,632.28 892.72,632.06 898.41,631.85 904.1,631.63 909.78,631.36 915.47,631.02 921.16,630.61 926.84,630.13 932.53,629.57 938.22,628.96 943.9,628.3 949.59,627.56 955.28,626.69 960.97,625.65 966.65,624.37 972.34,622.85 978.03,621.03 983.71,618.78 989.4,616.01 995.09,612.74 1000.78,608.97 1006.46,604.71 1012.15,599.85 1017.84,594.37 1023.52,588.32 1029.21,581.4 1034.9,573.44 1040.58,564.56 1046.27,554.93 1051.96,544.75 1057.64,534.28 1063.33,523.82 1069.02,513.79 1074.71,504.63 1080.39,496.6 1086.08,489.93 1091.77,484.61 1097.45,480.68 1103.14,478 1108.83,476.18 1114.52,475.04 1120.2,474.55 1125.89,474.55 1131.58,474.88 1137.26,475.54 1142.95,476.5 1148.64,477.77 1154.32,479.35 1160.01,481.23 1165.7,483.4 1171.38,485.83 1177.07,488.52 1182.76,491.46 1188.45,494.63 1194.13,497.99 1199.82,501.56 1205.51,505.38 1211.19,509.44 1216.88,513.73 1222.57,518.19 1228.26,522.8 1233.94,527.52 1239.63,532.33 1245.32,537.19 1251,542.07 1256.69,546.94 1262.38,551.77 1268.06,556.52 1273.75,561.18 1279.44,565.79 1285.12,570.37 1290.81,574.89"/>
<polyline class="ln" stroke="#E76BF3" points="807.42,455.05 813.1,453.43 818.79,451.8 824.48,450.13 830.16,448.42 835.85,446.67 841.54,444.89 847.23,443.08 852.91,441.24 858.6,439.36 864.29,437.46 869.97,435.56 875.66,433.67 881.35,431.79 887.04,429.95 892.72,428.19 898.41,426.54 904.1,424.99 909.78,423.54 915.47,422.16 921.16,420.84 926.84,419.55 932.53,418.25 938.22,416.92 943.9,415.53 949.59,414.03 955.28,412.46 960.97,410.79 966.65,408.93 972.34,406.88 978.03,404.62 983.71,402.17 989.4,399.56 995.09,396.81 1000.78,393.91 1006.46,390.87 1012.15,387.62 1017.84,384.08 1023.52,380.09 1029.21,375.55 1034.9,370.28 1040.58,364.11 1046.27,357.13 1051.96,349.59 1057.64,341.74 1063.33,333.91 1069.02,326.44 1074.71,319.61 1080.39,313.65 1086.08,308.74 1091.77,304.9 1097.45,302.08 1103.14,300.11 1108.83,298.79 1114.52,297.87 1120.2,297.28 1125.89,297.04 1131.58,297.14 1137.26,297.53 1142.95,298.2 1148.64,299.17 1154.32,300.42 1160.01,301.96 1165.7,303.77 1171.38,305.82 1177.07,308.07 1182.76,310.5 1188.45,313.06 1194.13,315.76 1199.82,318.58 1205.51,321.51 1211.19,324.56 1216.88,327.71 1222.57,330.94 1228.26,334.25 1233.94,337.64 1239.63,341.08 1245.32,344.57 1251,348.11 1256.69,351.65 1262.38,355.19 1268.06,358.69 1273.75,362.14 1279.44,365.51 1285.12,368.78 1290.81,371.93"/>
<polyline class="ln" stroke="#FD61D1" points="807.42,432.26 813.1,430.39 818.79,428.49 824.48,426.55 830.16,424.57 835.85,422.54 841.54,420.46 847.23,418.35 852.91,416.23 858.6,414.11 864.29,411.99 869.97,409.88 875.66,407.79 881.35,405.74 887.04,403.75 892.72,401.82 898.41,399.94 904.1,398.13 909.78,396.38 915.47,394.7 921.16,393.1 926.84,391.57 932.53,390.09 938.22,388.61 943.9,387.12 949.59,385.58 955.28,383.93 960.97,382.13 966.65,380.16 972.34,377.97 978.03,375.54 983.71,372.83 989.4,369.84 995.09,366.53 1000.78,362.97 1006.46,359.21 1012.15,355.26 1017.84,351.16 1023.52,346.92 1029.21,342.42 1034.9,337.46 1040.58,331.85 1046.27,325.61 1051.96,318.82 1057.64,311.6 1063.33,304.12 1069.02,296.62 1074.71,289.36 1080.39,282.65 1086.08,276.73 1091.77,271.79 1097.45,267.93 1103.14,265.13 1108.83,263.25 1114.52,262.05 1120.2,261.38 1125.89,261.22 1131.58,261.47 1137.26,262.08 1142.95,262.99 1148.64,264.15 1154.32,265.54 1160.01,267.11 1165.7,268.84 1171.38,270.73 1177.07,272.77 1182.76,274.94 1188.45,277.24 1194.13,279.67 1199.82,282.21 1205.51,284.88 1211.19,287.65 1216.88,290.53 1222.57,293.52 1228.26,296.59 1233.94,299.75 1239.63,302.98 1245.32,306.27 1251,309.59 1256.69,312.94 1262.38,316.3 1268.06,319.66 1273.75,323.02 1279.44,326.4 1285.12,329.78 1290.81,333.15"/>
<polyline class="ln" stroke="#FF67A4" points="807.42,396.65 813.1,394.59 818.79,392.51 824.48,390.43 830.16,388.34 835.85,386.25 841.54,384.15 847.23,382.06 852.91,379.97 858.6,377.9 864.29,375.83 869.97,373.78 875.66,371.74 881.35,369.73 887.04,367.74 892.72,365.77 898.41,363.84 904.1,361.95 909.78,360.1 915.47,358.29 921.16,356.51 926.84,354.75 932.53,353 938.22,351.23 943.9,349.42 949.59,347.55 955.28,345.56 960.97,343.44 966.65,341.14 972.34,338.62 978.03,335.83 983.71,332.76 989.4,329.44 995.09,325.91 1000.78,322.22 1006.46,318.35 1012.15,314.36 1017.84,310.27 1023.52,305.98 1029.21,301.33 1034.9,296.14 1040.58,290.27 1046.27,283.7 1051.96,276.48 1057.64,268.74 1063.33,260.69 1069.02,252.6 1074.71,244.77 1080.39,237.49 1086.08,231.02 1091.77,225.59 1097.45,221.25 1103.14,217.92 1108.83,215.47 1114.52,213.74 1120.2,212.64 1125.89,212.09 1131.58,211.99 1137.26,212.27 1142.95,212.86 1148.64,213.75 1154.32,214.94 1160.01,216.45 1165.7,218.27 1171.38,220.38 1177.07,222.74 1182.76,225.34 1188.45,228.15 1194.13,231.15 1199.82,234.31 1205.51,237.61 1211.19,241 1216.88,244.45 1222.57,247.96 1228.26,251.51 1233.94,255.1 1239.63,258.7 1245.32,262.32 1251,265.94 1256.69,269.56 1262.38,273.16 1268.06,276.74 1273.75,280.3 1279.44,283.83 1285.12,287.35 1290.81,290.83"/>
<text class="t" x="783.25" y="55">Smoothed (window = 15)</text>
<text class="ax" text-anchor="end" x="770.1" y="565">2.5</text>
<text class="ax" text-anchor="end" x="770.1" y="450">3.0</text>
<text class="ax" text-anchor="end" x="770.1" y="334">3.5</text>
<text class="ax" text-anchor="end" x="770.1" y="219">4.0</text>
<text class="ax" text-anchor="end" x="770.1" y="104">4.5</text>
<text class="ax" text-anchor="middle" x="801.73" y="693">0</text>
<text class="ax" text-anchor="middle" x="943.9" y="693">25</text>
<text class="ax" text-anchor="middle" x="1086.08" y="693">50</text>
<text class="ax" text-anchor="middle" x="1228.26" y="693">75</text>
<text class="at" text-anchor="middle" x="1049.12" y="727">Wavelength</text>
<text class="at" text-anchor="middle" transform="translate(719 369.75) rotate(-90)">Signal</text>
</g>
<g id="d1">
<path class="gm" d="M137 1309.03H649.6M137 1176.78H649.6M137 1044.53H649.6M137 912.28H649.6M220.51 851V1437M351.41 851V1437M482.31 851V1437M613.21 851V1437"/>
<path class="gM" d="M137 1375.15H649.6M137 1242.9H649.6M137 1110.65H649.6M137 978.4H649.6M155.06 851V1437M285.96 851V1437M416.86 851V1437M547.76 851V1437"/>
<polyline class="ln" stroke="#F8766D" points="160.3,1236.55 165.53,1233.47 170.77,1230.57 176,1227.73 181.24,1224.91 186.48,1222.09 191.71,1219.28 196.95,1216.46 202.18,1213.46 207.42,1210.13 212.66,1206.67 217.89,1203.26 223.13,1200.16 228.36,1197.69 233.6,1196.28 238.84,1195.9 244.07,1196.86 249.31,1198.89 254.54,1201.1 259.78,1202.28 265.02,1201.32 270.25,1197.17 275.49,1190.39 280.72,1182.8 285.96,1176.23 291.2,1171.74 296.43,1169.02 301.67,1166.7 306.9,1162.61 312.14,1155.62 317.38,1145.76 322.61,1136.31 327.85,1130.42 333.08,1130.5 338.32,1138.1 343.56,1151.06 348.79,1165.27 354.03,1177.09 359.26,1183.39 364.5,1183.39 369.74,1159.66 374.97,1124.75 380.21,1081.15 385.44,1034.53 390.68,990.91 395.92,956.05 401.15,933.44 406.39,926.16 411.62,944.02 416.86,970.96 422.1,1004.97 427.33,1042.47 432.57,1080.3 437.8,1115.89 443.04,1147.62 448.28,1175 453.51,1198.49 458.75,1218.62 463.98,1235.87 469.22,1250.48 474.46,1262.53 479.69,1272.86 484.93,1283.35 490.16,1295 495.4,1305.35 500.64,1314.16 505.87,1321.88 511.11,1328.7 516.34,1335.07 521.58,1340.84 526.82,1345.84 532.05,1349.86 537.29,1352.81 542.52,1354.97 547.76,1357.01 553,1359.13 558.23,1362.39 563.47,1367.66 568.7,1373.67 573.94,1379.55 579.18,1384.71 584.41,1388.24 589.65,1389.5 594.88,1388.84 600.12,1386.71 605.36,1383.99 610.59,1381.42 615.83,1379.3 621.06,1377.62 626.3,1375.88"/>
<polyline class="ln" stroke="#E58700" points="160.3,1212.67 165.53,1210.57 170.77,1208.47 176,1206.12 181.24,1203.48 186.48,1200.57 191.71,1197.43 196.95,1194.08 202.18,1190.34 207.42,1186.06 212.66,1181.45 217.89,1176.73 223.13,1172.43 228.36,1168.72 233.6,1166.03 238.84,1164.99 244.07,1165.58 249.31,1167.22 254.54,1169.07 259.78,1170.08 265.02,1168.87 270.25,1163.65 275.49,1154.75 280.72,1143.71 285.96,1132.91 291.2,1125 296.43,1120.63 301.67,1118.78 306.9,1117.18 312.14,1113.61 317.38,1107.54 322.61,1102.74 327.85,1103.71 333.08,1115.06 338.32,1137.84 343.56,1169.34 348.79,1205.28 354.03,1240.45 359.26,1269.35 364.5,1288.2 369.74,1275.96 374.97,1246.97 380.21,1205.6 385.44,1156.06 390.68,1105.43 395.92,1061.72 401.15,1031.3 406.39,1019.4 411.62,1031.3 416.86,1052.05 422.1,1080.28 427.33,1112.35 432.57,1145.16 437.8,1175.92 443.04,1201.4 448.28,1218.57 453.51,1228.27 458.75,1237.27 463.98,1247.54 469.22,1256.17 474.46,1263 479.69,1269.17 484.93,1276.36 490.16,1283.44 495.4,1289.65 500.64,1295.11 505.87,1299.89 511.11,1303.95 516.34,1307.34 521.58,1310.01 526.82,1311.91 532.05,1312.97 537.29,1313.07 542.52,1311.99 547.76,1310.26 553,1310.34 558.23,1313.14 563.47,1319.04 568.7,1325.39 573.94,1331.41 579.18,1336.35 584.41,1338.31 589.65,1337.86 594.88,1335.57 600.12,1332.77 605.36,1330.02 610.59,1327.82 615.83,1326.68 621.06,1327.05 626.3,1328.13"/>
<polyline class="ln" stroke="#C99800" points="160.3,1228.59 165.53,1227.65 170.77,1226.32 176,1224.85 181.24,1223.29 186.48,1221.63 191.71,1219.89 196.95,1218.08 202.18,1216.2 207.42,1214.29 212.66,1212.41 217.89,1210.69 223.13,1209.52 228.36,1208.74 233.6,1208.31 238.84,1208.34 244.07,1208.6 249.31,1208.97 254.54,1209.28 259.78,1209.46 265.02,1209.5 270.25,1209.39 275.49,1209.21 280.72,1209.04 285.96,1208.83 291.2,1208.44 296.43,1207.59 301.67,1206 306.9,1202.75 312.14,1196.96 317.38,1188.89 322.61,1179.75 327.85,1170.59 333.08,1162.77 338.32,1156.81 343.56,1152.71 348.79,1150.57 354.03,1148.7 359.26,1146.02 364.5,1140.2 369.74,1125.63 374.97,1105.13 380.21,1081.86 385.44,1057.83 390.68,1035.31 395.92,1016.74 401.15,1004.85 406.39,995.59 411.62,1006.17 416.86,1035.69 422.1,1075.31 427.33,1121.19 432.57,1166.7 437.8,1206.02 443.04,1235.05 448.28,1252.9 453.51,1264.1 458.75,1273.02 463.98,1281.53 469.22,1291.99 474.46,1303.04 479.69,1313.4 484.93,1323.03 490.16,1332.02 495.4,1340.29 500.64,1347.95 505.87,1354.89 511.11,1360.93 516.34,1366.04 521.58,1369.73 526.82,1371.92 532.05,1373.02 537.29,1373.45 542.52,1373.6 547.76,1373.86 553,1374.52 558.23,1375.61 563.47,1377.06 568.7,1378.86 573.94,1380.66 579.18,1381.76 584.41,1381.97 589.65,1381.19 594.88,1379.45 600.12,1377.2 605.36,1374.57 610.59,1372.1 615.83,1369.74 621.06,1366.85 626.3,1363.14"/>
<polyline class="ln" stroke="#A3A500" points="160.3,1230.07 165.53,1228.28 170.77,1226.86 176,1225.39 181.24,1223.76 186.48,1222 191.71,1220.21 196.95,1218.49 202.18,1216.73 207.42,1214.83 212.66,1212.87 217.89,1211 223.13,1209.62 228.36,1208.85 233.6,1208.6 238.84,1208.64 244.07,1208.86 249.31,1209.14 254.54,1209.37 259.78,1209.54 265.02,1209.53 270.25,1209.3 275.49,1208.97 280.72,1208.76 285.96,1208.74 291.2,1208.85 296.43,1208.66 301.67,1207.43 306.9,1204.26 312.14,1199.15 317.38,1191.27 322.61,1182.07 327.85,1172.72 333.08,1164.11 338.32,1157.09 343.56,1151.48 348.79,1147.17 354.03,1142.77 359.26,1137.35 364.5,1129.58 369.74,1117.05 374.97,1100.01 380.21,1079.06 385.44,1054.51 390.68,1027.39 395.92,1000.17 401.15,976.42 406.39,957.9 411.62,957.9 416.86,988.32 422.1,1025.2 427.33,1069.77 432.57,1117.73 437.8,1164.21 443.04,1202.22 448.28,1225.44 453.51,1240.64 458.75,1252.93 463.98,1263.63 469.22,1275.55 474.46,1288.06 479.69,1300.36 484.93,1312.14 490.16,1323.51 495.4,1334.44 500.64,1344.64 505.87,1353.83 511.11,1362.22 516.34,1370.06 521.58,1376.52 526.82,1381.65 532.05,1385.77 537.29,1389.14 542.52,1392.02 547.76,1394.65 553,1397.24 558.23,1399.73 563.47,1402.14 568.7,1404.89 573.94,1407.8 579.18,1409.94 584.41,1411.01 589.65,1410.74 594.88,1409.57 600.12,1407.81 605.36,1405.68 610.59,1403.83 615.83,1402.14 621.06,1399.7 626.3,1396.31"/>
<polyline class="ln" stroke="#6BB100" points="160.3,1228.29 165.53,1225.45 170.77,1222.65 176,1219.67 181.24,1216.48 186.48,1212.96 191.71,1209.1 196.95,1205 202.18,1200.62 207.42,1195.85 212.66,1190.96 217.89,1186.19 223.13,1182 228.36,1178.56 233.6,1176.2 238.84,1175.14 244.07,1175.49 249.31,1177.47 254.54,1180.08 259.78,1182.4 265.02,1182.76 270.25,1180.7 275.49,1175.47 280.72,1167.02 285.96,1157.57 291.2,1150.23 296.43,1145.03 301.67,1141.59 306.9,1137.58 312.14,1130.85 317.38,1121.43 322.61,1111.35 327.85,1103.94 333.08,1100.58 338.32,1102.32 343.56,1112.18 348.79,1130.21 354.03,1150.12 359.26,1165.97 364.5,1174.13 369.74,1174.13 374.97,1151.88 380.21,1115.23 385.44,1066.88 390.68,1012.9 395.92,960.74 401.15,918.89 406.39,886.49 411.62,877.43 416.86,893.76 422.1,929.47 427.33,981.49 432.57,1040.42 437.8,1098.49 443.04,1147.25 448.28,1181.07 453.51,1201.68 458.75,1220.38 463.98,1239.87 469.22,1258.25 474.46,1273.58 479.69,1285.78 484.93,1297.23 490.16,1308.22 495.4,1318.38 500.64,1327.62 505.87,1336.04 511.11,1343.63 516.34,1350.28 521.58,1355.83 526.82,1360.26 532.05,1363.69 537.29,1366.16 542.52,1367.84 547.76,1369.37 553,1371.44 558.23,1374.12 563.47,1377.22 568.7,1380.94 573.94,1385.24 579.18,1389.49 584.41,1393.18 589.65,1395.2 594.88,1395.21 600.12,1393.02 605.36,1389.8 610.59,1386.62 615.83,1383.62 621.06,1380.73 626.3,1378.18"/>
<polyline class="ln" stroke="#00BA38" points="160.3,1204.89 165.53,1202.61 170.77,1200.88 176,1198.83 181.24,1196.21 186.48,1193.32 191.71,1190.5 196.95,1187.72 202.18,1184.4 207.42,1180.13 212.66,1175.6 217.89,1171.15 223.13,1166.59 228.36,1161.91 233.6,1157.47 238.84,1153.95 244.07,1152.21 249.31,1152.25 254.54,1154.11 259.78,1156.47 265.02,1157.34 270.25,1155.05 275.49,1148.3 280.72,1136.8 285.96,1124.22 291.2,1113.88 296.43,1107.83 301.67,1105.7 306.9,1104.51 312.14,1102.45 317.38,1098.06 322.61,1092.15 327.85,1088.03 333.08,1089.03 338.32,1100.91 343.56,1126.21 348.79,1162.27 354.03,1203.23 359.26,1242.05 364.5,1272.66 369.74,1289.85 374.97,1281.25 380.21,1250.76 385.44,1205.16 390.68,1149.41 395.92,1093.32 401.15,1046.81 406.39,1015.43 411.62,1005.51 416.86,1010.14 422.1,1040.76 427.33,1085.57 432.57,1136.39 437.8,1180.03 443.04,1206.86 448.28,1219.84 453.51,1228.91 458.75,1238.5 463.98,1248.12 469.22,1256.19 474.46,1263.06 479.69,1269.69 484.93,1276.98 490.16,1284.12 495.4,1290.35 500.64,1295.8 505.87,1300.55 511.11,1304.6 516.34,1307.96 521.58,1310.6 526.82,1312.49 532.05,1313.56 537.29,1313.66 542.52,1312.58 547.76,1310.54 553,1309.23 558.23,1309.5 563.47,1311.52 568.7,1316.04 573.94,1322.37 579.18,1329.05 584.41,1334.51 589.65,1337.56 594.88,1338.15 600.12,1335.87 605.36,1331.89 610.59,1327.8 615.83,1324.69 621.06,1323.58 626.3,1323.69"/>
<polyline class="ln" stroke="#00BF7D" points="160.3,1204.23 165.53,1202.43 170.77,1199.95 176,1197.1 181.24,1193.94 186.48,1190.46 191.71,1186.65 196.95,1182.52 202.18,1178.05 207.42,1173.29 212.66,1168.47 217.89,1163.68 223.13,1159 228.36,1155.02 233.6,1152.94 238.84,1152.95 244.07,1154.78 249.31,1157.29 254.54,1158.47 259.78,1156.77 265.02,1151.59 270.25,1142.7 275.49,1130.13 280.72,1118.02 285.96,1110.52 291.2,1106.78 296.43,1104.71 301.67,1102.58 306.9,1100.06 312.14,1095.68 317.38,1091.82 322.61,1092.07 327.85,1101.54 333.08,1126.45 338.32,1162.61 343.56,1202.67 348.79,1239.77 354.03,1269.35 359.26,1285.55 364.5,1262.74 369.74,1233.64 374.97,1195.24 380.21,1150.74 385.44,1105 390.68,1063.22 395.92,1030.4 401.15,1009.48 406.39,1013.45 411.62,1031.3 416.86,1063.3 422.1,1103.96 427.33,1146.77 432.57,1183.46 437.8,1208.57 443.04,1224.3 448.28,1235.09 453.51,1243.43 458.75,1250.33 463.98,1256.83 469.22,1266.21 474.46,1276.83 479.69,1285.82 484.93,1292.36 490.16,1297.07 495.4,1300.26 500.64,1302.94 505.87,1305.39 511.11,1307.59 516.34,1309.55 521.58,1310.96 526.82,1311.46 532.05,1310.82 537.29,1309.1 542.52,1307.37 547.76,1307.36 553,1308.55 558.23,1311.53 563.47,1317.35 568.7,1324.17 573.94,1330.28 579.18,1334.54 584.41,1335.44 589.65,1333.32 594.88,1329.08 600.12,1324.66 605.36,1321.5 610.59,1320.39 615.83,1321.32 621.06,1323.56 626.3,1326.17"/>
<polyline class="ln" stroke="#00C0AF" points="160.3,1235.54 165.53,1233.1 170.77,1231.08 176,1228.97 181.24,1226.68 186.48,1224.3 191.71,1222 196.95,1219.82 202.18,1217.6 207.42,1215.22 212.66,1212.78 217.89,1210.41 223.13,1208.52 228.36,1207.26 233.6,1206.64 238.84,1206.37 244.07,1206.44 249.31,1206.91 254.54,1207.45 259.78,1207.87 265.02,1207.86 270.25,1207.32 275.49,1206.27 280.72,1204.71 285.96,1202.41 291.2,1199.06 296.43,1195.86 301.67,1192.79 306.9,1188.34 312.14,1181.42 317.38,1172.07 322.61,1161.19 327.85,1150.71 333.08,1142.13 338.32,1135.74 343.56,1132.1 348.79,1129.37 354.03,1125.92 359.26,1121.03 364.5,1112.69 369.74,1096.29 374.97,1073.23 380.21,1045.53 385.44,1015.01 390.68,984.25 395.92,957.24 401.15,925.5 406.39,910.29 411.62,914.26 416.86,945.34 422.1,991.63 427.33,1036.88 432.57,1082.76 437.8,1125.17 443.04,1161.44 448.28,1190.21 453.51,1212.11 458.75,1229.48 463.98,1244.22 469.22,1258.8 474.46,1274.2 479.69,1286.92 484.93,1298.51 490.16,1309.56 495.4,1319.74 500.64,1329 505.87,1337.42 511.11,1345 516.34,1351.63 521.58,1357.17 526.82,1361.57 532.05,1365.03 537.29,1368.06 542.52,1370.81 547.76,1373.25 553,1375.7 558.23,1378.41 563.47,1381.3 568.7,1384.56 573.94,1388.01 579.18,1390.9 584.41,1392.95 589.65,1393.6 594.88,1392.49 600.12,1389.83 605.36,1386.78 610.59,1383.72 615.83,1380.95 621.06,1378.74 626.3,1377.96"/>
<polyline class="ln" stroke="#00BCD8" points="160.3,1198.42 165.53,1196.73 170.77,1195.23 176,1193.57 181.24,1191.63 186.48,1189.54 191.71,1187.44 196.95,1185.3 202.18,1182.89 207.42,1180.04 212.66,1177.11 217.89,1174.34 223.13,1171.81 228.36,1169.66 233.6,1168.27 238.84,1167.84 244.07,1168.58 249.31,1170.19 254.54,1172.02 259.78,1173.27 265.02,1173.24 270.25,1171.22 275.49,1167.7 280.72,1163.46 285.96,1159.48 291.2,1156.69 296.43,1154.8 301.67,1153.14 306.9,1150.12 312.14,1144.45 317.38,1136.31 322.61,1127.24 327.85,1119.71 333.08,1116.48 338.32,1117.83 343.56,1123.72 348.79,1132.29 354.03,1140.09 359.26,1143.71 364.5,1141.1 369.74,1128.5 374.97,1106.62 380.21,1076.34 385.44,1039.49 390.68,999.54 395.92,961.87 401.15,922.19 406.39,902.36 411.62,902.36 416.86,930.79 422.1,978.4 427.33,1024.65 432.57,1073.62 437.8,1120.3 443.04,1160.85 448.28,1192.63 453.51,1215.34 458.75,1232.56 463.98,1247.15 469.22,1261.85 474.46,1276.57 479.69,1288.97 484.93,1300.39 490.16,1311.39 495.4,1321.58 500.64,1330.82 505.87,1339.23 511.11,1346.8 516.34,1353.4 521.58,1358.94 526.82,1363.37 532.05,1366.84 537.29,1369.72 542.52,1372.4 547.76,1375.13 553,1377.97 558.23,1380.84 563.47,1383.97 568.7,1387.84 573.94,1392.07 579.18,1395.6 584.41,1398.29 589.65,1399.85 594.88,1399.55 600.12,1397.75 605.36,1395.25 610.59,1392.82 615.83,1390.97 621.06,1389.59 626.3,1388.88"/>
<polyline class="ln" stroke="#00B0F6" points="160.3,1192.74 165.53,1191.38 170.77,1189.98 176,1188.51 181.24,1186.97 186.48,1185.35 191.71,1183.61 196.95,1181.66 202.18,1179.14 207.42,1175.81 212.66,1172.22 217.89,1168.79 223.13,1165.98 228.36,1163.78 233.6,1162.3 238.84,1161.95 244.07,1162.95 249.31,1164.84 254.54,1166.78 259.78,1167.69 265.02,1166.91 270.25,1164.19 275.49,1160.06 280.72,1155.41 285.96,1151.2 291.2,1148.28 296.43,1146.16 301.67,1143.98 306.9,1140.3 312.14,1133.6 317.38,1124.51 322.61,1115.58 327.85,1110.23 333.08,1110.28 338.32,1115.51 343.56,1124.37 348.79,1134.66 354.03,1143.93 359.26,1149 364.5,1149 369.74,1121.08 374.97,1082.09 380.21,1034.44 385.44,984.3 390.68,938.73 395.92,901.7 401.15,879.54 406.39,884.5 411.62,915.58 416.86,968.48 422.1,1015.34 427.33,1062.8 432.57,1106.62 437.8,1144.47 443.04,1175.32 448.28,1199.65 453.51,1219.21 458.75,1236.8 463.98,1254.89 469.22,1269.27 474.46,1281.24 479.69,1293.15 484.93,1305.2 490.16,1316.73 495.4,1327.45 500.64,1337.22 505.87,1345.93 511.11,1353.54 516.34,1360.2 521.58,1366.08 526.82,1371.05 532.05,1374.84 537.29,1377.82 542.52,1380.3 547.76,1382.69 553,1385.76 558.23,1389.82 563.47,1394.56 568.7,1399.96 573.94,1405.13 579.18,1408.44 584.41,1410 589.65,1409.7 594.88,1407.73 600.12,1405.34 605.36,1402.9 610.59,1400.75 615.83,1399.07 621.06,1397.73 626.3,1396.92"/>
<polyline class="ln" stroke="#619CFF" points="160.3,1203.05 165.53,1200.12 170.77,1197.24 176,1194.4 181.24,1191.57 186.48,1188.64 191.71,1185.5 196.95,1182.06 202.18,1177.88 207.42,1172.67 212.66,1166.98 217.89,1161.23 223.13,1155.83 228.36,1151.18 233.6,1147.94 238.84,1146.15 244.07,1146.67 249.31,1149 254.54,1151.41 259.78,1151.68 265.02,1147.85 270.25,1138.57 275.49,1125.78 280.72,1112.6 285.96,1101.7 291.2,1095 296.43,1092.03 301.67,1090.68 306.9,1088.96 312.14,1085.48 317.38,1081.14 322.61,1079.49 327.85,1087.63 333.08,1112.54 338.32,1150.63 343.56,1194.97 348.79,1238.59 354.03,1275.96 359.26,1301.75 364.5,1305.06 369.74,1282.58 374.97,1243.14 380.21,1193.08 385.44,1137.66 390.68,1084.61 395.92,1041.83 401.15,1013.45 406.39,1007.5 411.62,1021.38 416.86,1055.45 422.1,1100.35 427.33,1147.38 432.57,1185.63 437.8,1210.16 443.04,1225.15 448.28,1235.62 453.51,1244.06 458.75,1251.2 463.98,1257.79 469.22,1267.35 474.46,1277.77 479.69,1286.59 484.93,1293.11 490.16,1297.73 495.4,1300.92 500.64,1303.61 505.87,1306.05 511.11,1308.23 516.34,1310.17 521.58,1311.59 526.82,1312.09 532.05,1311.48 537.29,1309.84 542.52,1307.72 547.76,1306.48 553,1307.27 558.23,1310.37 563.47,1316.54 568.7,1323.49 573.94,1329.54 579.18,1333.77 584.41,1334.75 589.65,1332.62 594.88,1328.38 600.12,1323.97 605.36,1320.84 610.59,1319.8 615.83,1320.76 621.06,1323.32 626.3,1326.83"/>
<polyline class="ln" stroke="#B983FF" points="160.3,1246.08 165.53,1244.22 170.77,1242.99 176,1241.79 181.24,1240.47 186.48,1239.19 191.71,1238.12 196.95,1237.22 202.18,1236.27 207.42,1235.07 212.66,1233.81 217.89,1232.48 223.13,1231.17 228.36,1229.94 233.6,1228.82 238.84,1227.97 244.07,1227.58 249.31,1227.36 254.54,1227.3 259.78,1227.54 265.02,1227.99 270.25,1228.81 275.49,1229.79 280.72,1230.58 285.96,1230.86 291.2,1230.08 296.43,1227.67 301.67,1223.07 306.9,1216.05 312.14,1206.49 317.38,1195.15 322.61,1182.75 327.85,1169.68 333.08,1156.84 338.32,1144.03 343.56,1131.07 348.79,1118.2 354.03,1105.91 359.26,1093.68 364.5,1079.89 369.74,1062.35 374.97,1041.07 380.21,1017.2 385.44,992.95 390.68,961.87 395.92,937.4 401.15,922.46 406.39,922.86 411.62,941.37 416.86,977.08 422.1,1013.38 427.33,1053.18 432.57,1092.82 437.8,1129.56 443.04,1161.56 448.28,1188.15 453.51,1209.79 458.75,1227.23 463.98,1241.23 469.22,1252.74 474.46,1263.76 479.69,1276.14 484.93,1288.06 490.16,1299.26 495.4,1309.79 500.64,1319.24 505.87,1327.7 511.11,1335.28 516.34,1341.88 521.58,1347.57 526.82,1352.19 532.05,1355.96 537.29,1359.04 542.52,1362 547.76,1365.61 553,1369.04 558.23,1371.93 563.47,1374.47 568.7,1376.85 573.94,1378.88 579.18,1380.11 584.41,1380.52 589.65,1380.36 594.88,1379.67 600.12,1378.32 605.36,1376.31 610.59,1373.87 615.83,1371.11 621.06,1367.97 626.3,1364.45"/>
<polyline class="ln" stroke="#E76BF3" points="160.3,1194.97 165.53,1194.91 170.77,1194.91 176,1194.89 181.24,1194.85 186.48,1194.76 191.71,1194.65 196.95,1194.53 202.18,1194.4 207.42,1194.22 212.66,1193.99 217.89,1193.78 223.13,1193.57 228.36,1193.35 233.6,1193.16 238.84,1193.1 244.07,1193.18 249.31,1193.38 254.54,1193.76 259.78,1194.4 265.02,1195.24 270.25,1196.19 275.49,1197.2 280.72,1198.21 285.96,1199.21 291.2,1200.2 296.43,1200.49 301.67,1199.5 306.9,1197.07 312.14,1192.86 317.38,1186.48 322.61,1178.29 327.85,1169.51 333.08,1160.95 338.32,1153.11 343.56,1146.38 348.79,1141.06 354.03,1136.96 359.26,1132.73 364.5,1126.74 369.74,1117.41 374.97,1103.73 380.21,1085.66 385.44,1064.96 390.68,1045.23 395.92,1030.07 401.15,1022.04 406.39,1020.06 411.62,1029.98 416.86,1050.73 422.1,1078.34 427.33,1109.93 432.57,1141.78 437.8,1170.18 443.04,1191.86 448.28,1205.86 453.51,1215.85 458.75,1224.92 463.98,1234.26 469.22,1243.56 474.46,1252.8 479.69,1263.49 484.93,1273.14 490.16,1281.27 495.4,1288.45 500.64,1294.92 505.87,1300.91 511.11,1306.49 516.34,1311.52 521.58,1315.8 526.82,1319.36 532.05,1322.53 537.29,1325.31 542.52,1327.79 547.76,1330.24 553,1332.51 558.23,1334.53 563.47,1336.36 568.7,1338.22 573.94,1340.06 579.18,1341.46 584.41,1342.2 589.65,1342.15 594.88,1341.5 600.12,1340.49 605.36,1339.21 610.59,1337.75 615.83,1336.2 621.06,1334.59 626.3,1332.28"/>
<polyline class="ln" stroke="#FD61D1" points="160.3,1191.2 165.53,1190.64 170.77,1190.49 176,1190.31 181.24,1189.97 186.48,1189.59 191.71,1189.31 196.95,1189.19 202.18,1189.11 207.42,1188.92 212.66,1188.69 217.89,1188.55 223.13,1188.44 228.36,1188.15 233.6,1187.91 238.84,1188.13 244.07,1188.79 249.31,1189.35 254.54,1189.54 259.78,1189.54 265.02,1189.96 270.25,1190.92 275.49,1191.94 280.72,1192.85 285.96,1193.73 291.2,1194.39 296.43,1194.47 301.67,1193.63 306.9,1191.39 312.14,1187.47 317.38,1181.24 322.61,1173.31 327.85,1164.88 333.08,1156.53 338.32,1148.79 343.56,1142.06 348.79,1136.67 354.03,1132.37 359.26,1127.89 364.5,1121.76 369.74,1112.7 374.97,1099.91 380.21,1083.15 385.44,1063.22 390.68,1042.51 395.92,1024.72 401.15,1012.79 406.39,1010.14 411.62,1019.4 416.86,1037.38 422.1,1062.9 427.33,1094.1 432.57,1127.93 437.8,1160.59 443.04,1187.36 448.28,1204.28 453.51,1214.78 458.75,1223.85 463.98,1233.22 469.22,1242.76 474.46,1252.33 479.69,1263.03 484.93,1272.64 490.16,1280.72 495.4,1287.81 500.64,1294.21 505.87,1300.19 511.11,1305.81 516.34,1310.83 521.58,1315.05 526.82,1318.62 532.05,1321.81 537.29,1324.62 542.52,1327.37 547.76,1330.58 553,1333.15 558.23,1335.16 563.47,1336.99 568.7,1338.87 573.94,1340.7 579.18,1342.06 584.41,1342.81 589.65,1342.79 594.88,1342.11 600.12,1341.07 605.36,1339.76 610.59,1338.38 615.83,1336.97 621.06,1335.39 626.3,1333.63"/>
<polyline class="ln" stroke="#FF67A4" points="160.3,1185.6 165.53,1185.57 170.77,1185.75 176,1185.88 181.24,1185.91 186.48,1185.9 191.71,1185.9 196.95,1185.9 202.18,1185.81 207.42,1185.57 212.66,1185.22 217.89,1184.9 223.13,1184.64 228.36,1184.4 233.6,1184.22 238.84,1184.15 244.07,1184.22 249.31,1184.39 254.54,1184.79 259.78,1185.49 265.02,1186.35 270.25,1187.16 275.49,1187.81 280.72,1188.44 285.96,1189.09 291.2,1189.7 296.43,1189.85 301.67,1189.08 306.9,1186.93 312.14,1182.98 317.38,1176.77 322.61,1168.85 327.85,1160.37 333.08,1151.87 338.32,1143.93 343.56,1137.07 348.79,1131.6 354.03,1127.4 359.26,1123.1 364.5,1116.89 369.74,1106.51 374.97,1091.09 380.21,1071.42 385.44,1049.49 390.68,1028 395.92,1009.82 401.15,997.58 406.39,992.95 411.62,999.56 416.86,1019.28 422.1,1049.04 427.33,1085.76 432.57,1124.24 437.8,1159.82 443.04,1187.98 448.28,1205.39 453.51,1216.11 458.75,1225.2 463.98,1234.55 469.22,1244.47 474.46,1254.57 479.69,1264.6 484.93,1274.53 490.16,1285.03 495.4,1295.35 500.64,1302.82 505.87,1308.84 511.11,1314.53 516.34,1319.91 521.58,1324.71 526.82,1328.78 532.05,1332.13 537.29,1334.81 542.52,1337.33 547.76,1340.6 553,1343.26 558.23,1345.26 563.47,1346.97 568.7,1348.52 573.94,1349.78 579.18,1350.59 584.41,1350.91 589.65,1350.6 594.88,1349.62 600.12,1348.29 605.36,1346.72 610.59,1345.07 615.83,1343.38 621.06,1341.58 626.3,1339.68"/>
<text class="t" x="137" y="788">1st Derivative</text>
<text class="st" x="137" y="830">Baseline offset removed</text>
<text class="ax" text-anchor="end" x="124.1" y="1384">-0.02</text>
<text class="ax" text-anchor="end" x="124.1" y="1252">0.00</text>
<text class="ax" text-anchor="end" x="124.1" y="1119">0.02</text>
<text class="ax" text-anchor="end" x="124.1" y="987">0.04</text>
<text class="ax" text-anchor="middle" x="155.06" y="1467">0</text>
<text class="ax" text-anchor="middle" x="285.96" y="1467">25</text>
<text class="ax" text-anchor="middle" x="416.86" y="1467">50</text>
<text class="ax" text-anchor="middle" x="547.76" y="1467">75</text>
<text class="at" text-anchor="middle" x="393.3" y="1501">Wavelength</text>
<text class="at" text-anchor="middle" transform="translate(50 1144) rotate(-90)">Signal</text>
</g>
<g id="d2">
<path class="gm" d="M802.4 1352.9H1315M802.4 1199.9H1315M802.4 1046.9H1315M802.4 893.9H1315M888.74 851V1437M1025.79 851V1437M1162.84 851V1437M1299.89 851V1437"/>
<path class="gM" d="M802.4 1429.4H1315M802.4 1276.4H1315M802.4 1123.4H1315M802.4 970.4H1315M820.22 851V1437M957.27 851V1437M1094.32 851V1437M1231.37 851V1437"/>
<polyline class="ln" stroke="#F8766D" points="825.7,1101.93 831.18,1101.53 836.66,1101.13 842.14,1100.74 847.63,1100.31 853.11,1100.06 858.59,1100.14 864.07,1100.83 869.55,1102.4 875.04,1105.03 880.52,1108.69 886,1112.96 891.48,1117.11 896.96,1120.09 902.45,1120.95 907.93,1119.27 913.41,1115.37 918.89,1110.07 924.37,1104.37 929.86,1099.04 935.34,1094.36 940.82,1090.24 946.3,1086.44 951.78,1083.03 957.27,1080.68 962.75,1080.3 968.23,1082.88 973.71,1089.2 979.19,1099.3 984.68,1112.43 990.16,1127.08 995.64,1141.21 1001.12,1149.79 1006.6,1147.41 1012.09,1131.43 1017.57,1101.36 1023.05,1059.79 1028.53,1012.15 1034.01,965.8 1039.5,928.83 1044.98,909.75 1050.46,913.78 1055.94,941.41 1061.42,990.99 1066.91,1056.19 1072.39,1127.93 1077.87,1198.32 1083.35,1260.18 1088.83,1308.26 1094.32,1339.74 1099.8,1354.08 1105.28,1352.7 1110.76,1340.17 1116.24,1321.47 1121.73,1299.8 1127.21,1278.29 1132.69,1258.9 1138.17,1242.32 1143.65,1228.57 1149.14,1217.29 1154.62,1208.04 1160.1,1200.41 1165.58,1193.95 1171.06,1188.16 1176.55,1182.44 1182.03,1176.29 1187.51,1169.76 1192.99,1163.53 1198.47,1158.24 1203.96,1154.31 1209.44,1151.97 1214.92,1151.09 1220.4,1151.38 1225.88,1152.36 1231.37,1153.32 1236.85,1153.5 1242.33,1152.26 1247.81,1149.26 1253.29,1144.52 1258.78,1138.39 1264.26,1131.45 1269.74,1124.52 1275.22,1117.56 1280.7,1110.95 1286.19,1104.34 1291.67,1097.73"/>
<polyline class="ln" stroke="#E58700" points="825.7,1106.18 831.18,1104 836.66,1101.83 842.14,1099.65 847.63,1097.46 853.11,1095.63 858.59,1094.32 864.07,1093.96 869.55,1094.91 875.04,1097.34 880.52,1101.14 886,1105.88 891.48,1110.75 896.96,1114.47 902.45,1115.73 907.93,1113.74 913.41,1108.56 918.89,1101.19 924.37,1093.15 929.86,1085.92 935.34,1080.56 940.82,1077.33 946.3,1076.01 951.78,1076.68 957.27,1080.24 962.75,1088.11 968.23,1101.67 973.71,1121.56 979.19,1147.36 984.68,1177.73 990.16,1210.31 995.64,1241.69 1001.12,1264.77 1006.6,1272.03 1012.09,1259.4 1017.57,1225.28 1023.05,1171.68 1028.53,1104.86 1034.01,1034.46 1039.5,971.59 1044.98,927.41 1050.46,909.1 1055.94,918.9 1061.42,956.03 1066.91,1013.77 1072.39,1081.98 1077.87,1151.67 1083.35,1213.84 1088.83,1260.97 1094.32,1289.45 1099.8,1299.84 1105.28,1295.06 1110.76,1280.31 1116.24,1260.56 1121.73,1239.26 1127.21,1219.46 1132.69,1203.07 1138.17,1191.01 1143.65,1183.2 1149.14,1178.33 1154.62,1174.35 1160.1,1170.11 1165.58,1165.82 1171.06,1161.59 1176.55,1156.98 1182.03,1151.63 1187.51,1145.69 1192.99,1139.95 1198.47,1135.33 1203.96,1132.7 1209.44,1132.39 1214.92,1134.11 1220.4,1137.33 1225.88,1141.08 1231.37,1144.31 1236.85,1146.2 1242.33,1146.24 1247.81,1144.18 1253.29,1139.89 1258.78,1133.87 1264.26,1127.33 1269.74,1121.69 1275.22,1117.02 1280.7,1115.85 1286.19,1117.4 1291.67,1118"/>
<polyline class="ln" stroke="#C99800" points="825.7,1112.27 831.18,1111.78 836.66,1111.28 842.14,1110.79 847.63,1110.34 853.11,1110.27 858.59,1110.65 864.07,1111.46 869.55,1112.72 875.04,1114.36 880.52,1116.22 886,1118.17 891.48,1120.02 896.96,1121.61 902.45,1122.81 907.93,1123.55 913.41,1123.86 918.89,1123.8 924.37,1123.37 929.86,1122.53 935.34,1121.1 940.82,1118.66 946.3,1114.76 951.78,1109.27 957.27,1102.48 962.75,1095.01 968.23,1087.77 973.71,1081.65 979.19,1077.46 984.68,1075.64 990.16,1076.09 995.64,1078.09 1001.12,1079.63 1006.6,1078.24 1012.09,1072.51 1017.57,1062.16 1023.05,1047.92 1028.53,1031.57 1034.01,1015.9 1039.5,1003.34 1044.98,998.25 1050.46,1006.53 1055.94,1031.12 1061.42,1071.77 1066.91,1124.76 1072.39,1183.54 1077.87,1240.93 1083.35,1290.14 1088.83,1326.18 1094.32,1346.66 1099.8,1351.41 1105.28,1341.03 1110.76,1318.6 1116.24,1290.32 1121.73,1261.58 1127.21,1236.35 1132.69,1217.27 1138.17,1205.03 1143.65,1198.44 1149.14,1194.96 1154.62,1192.1 1160.1,1188.43 1165.58,1183.33 1171.06,1177 1176.55,1170.04 1182.03,1162.84 1187.51,1155.68 1192.99,1148.93 1198.47,1142.95 1203.96,1138.04 1209.44,1134.42 1214.92,1132.18 1220.4,1131.13 1225.88,1130.86 1231.37,1130.79 1236.85,1130.34 1242.33,1129.15 1247.81,1127.07 1253.29,1124.19 1258.78,1120.77 1264.26,1117.06 1269.74,1113.18 1275.22,1109.23 1280.7,1105.53 1286.19,1101.83 1291.67,1098.14"/>
<polyline class="ln" stroke="#A3A500" points="825.7,1111.14 831.18,1110.86 836.66,1110.57 842.14,1110.29 847.63,1110.03 853.11,1110.05 858.59,1110.42 864.07,1111.28 869.55,1112.56 875.04,1114.18 880.52,1116 886,1117.9 891.48,1119.75 896.96,1121.36 902.45,1122.55 907.93,1123.25 913.41,1123.52 918.89,1123.51 924.37,1123.32 929.86,1122.89 935.34,1121.87 940.82,1119.86 946.3,1116.4 951.78,1111.25 957.27,1104.62 962.75,1097.03 968.23,1089.24 973.71,1082.11 979.19,1076.4 984.68,1072.61 990.16,1070.76 995.64,1070.4 1001.12,1070.25 1006.6,1068.72 1012.09,1064.32 1017.57,1055.9 1023.05,1043.05 1028.53,1026.39 1034.01,1007.79 1039.5,990.01 1044.98,977.89 1050.46,979.14 1055.94,997.8 1061.42,1033.34 1066.91,1083.59 1072.39,1144.19 1077.87,1208.85 1083.35,1269.54 1088.83,1319 1094.32,1352.78 1099.8,1368.59 1105.28,1365.92 1110.76,1347.36 1116.24,1320.24 1121.73,1291.15 1127.21,1263.57 1132.69,1240.86 1138.17,1225.1 1143.65,1216.3 1149.14,1211.92 1154.62,1208.94 1160.1,1205.73 1165.58,1201.45 1171.06,1195.99 1176.55,1189.77 1182.03,1183.13 1187.51,1176.34 1192.99,1169.68 1198.47,1163.47 1203.96,1157.94 1209.44,1153.26 1214.92,1149.57 1220.4,1146.86 1225.88,1144.82 1231.37,1142.92 1236.85,1140.73 1242.33,1137.99 1247.81,1134.62 1253.29,1130.77 1258.78,1126.7 1264.26,1122.53 1269.74,1118.21 1275.22,1113.81 1280.7,1109.74 1286.19,1105.67 1291.67,1101.6"/>
<polyline class="ln" stroke="#6BB100" points="825.7,1100.53 831.18,1098.66 836.66,1096.78 842.14,1094.91 847.63,1093.12 853.11,1091.84 858.59,1091.23 864.07,1091.61 869.55,1093.25 875.04,1096.37 880.52,1100.93 886,1106.56 891.48,1112.48 896.96,1117.63 902.45,1120.89 907.93,1121.26 913.41,1118.36 918.89,1112.85 924.37,1105.89 929.86,1098.66 935.34,1091.94 940.82,1085.92 946.3,1080.58 951.78,1076.03 957.27,1072.87 962.75,1071.88 968.23,1073.67 973.71,1078.95 979.19,1088.7 984.68,1103.3 990.16,1121.69 995.64,1141.49 1001.12,1159.72 1006.6,1170.86 1012.09,1168.93 1017.57,1150.66 1023.05,1115.61 1028.53,1066.69 1034.01,1009.86 1039.5,952.79 1044.98,905.48 1050.46,878.76 1055.94,879.65 1061.42,910.92 1066.91,971.48 1072.39,1054.23 1077.87,1147.47 1083.35,1238.64 1088.83,1316.08 1094.32,1372.68 1099.8,1403.02 1105.28,1411.64 1110.76,1403.69 1116.24,1380.47 1121.73,1347.89 1127.21,1312.53 1132.69,1280.47 1138.17,1255.43 1143.65,1238.04 1149.14,1226.26 1154.62,1216.71 1160.1,1207.47 1165.58,1198.73 1171.06,1190.88 1176.55,1183.74 1182.03,1176.71 1187.51,1169.59 1192.99,1162.79 1198.47,1156.75 1203.96,1151.76 1209.44,1148.03 1214.92,1145.74 1220.4,1144.88 1225.88,1145.15 1231.37,1145.94 1236.85,1146.46 1242.33,1145.9 1247.81,1143.71 1253.29,1139.82 1258.78,1134.6 1264.26,1128.55 1269.74,1122.21 1275.22,1115.08 1280.7,1107.86 1286.19,1100.64 1291.67,1093.41"/>
<polyline class="ln" stroke="#00BA38" points="825.7,1107.75 831.18,1105.61 836.66,1103.47 842.14,1101.33 847.63,1099.18 853.11,1097.06 858.59,1095.01 864.07,1093.4 869.55,1092.57 875.04,1092.92 880.52,1094.85 886,1098.49 891.48,1103.36 896.96,1108.24 902.45,1111.63 907.93,1112.15 913.41,1109.21 918.89,1103.36 924.37,1095.95 929.86,1088.58 935.34,1082.43 940.82,1078.05 946.3,1075.64 951.78,1075.26 957.27,1077.21 962.75,1082.07 968.23,1090.95 973.71,1105.27 979.19,1126.03 984.68,1153.42 990.16,1186.25 995.64,1221.83 1001.12,1255.72 1006.6,1280.76 1012.09,1289.09 1017.57,1275.5 1023.05,1238.09 1028.53,1179.01 1034.01,1105.3 1039.5,1027.95 1044.98,959.66 1050.46,911.18 1055.94,891.25 1061.42,905.15 1066.91,951.91 1072.39,1023.27 1077.87,1105.02 1083.35,1183.3 1088.83,1248.02 1094.32,1293.54 1099.8,1317.99 1105.28,1322.15 1110.76,1309.38 1116.24,1284.28 1121.73,1253.39 1127.21,1224.39 1132.69,1202.31 1138.17,1188.98 1143.65,1182.27 1149.14,1178.25 1154.62,1174.39 1160.1,1170.27 1165.58,1166.11 1171.06,1161.82 1176.55,1157.04 1182.03,1151.58 1187.51,1145.56 1192.99,1139.52 1198.47,1134.1 1203.96,1129.87 1209.44,1127.46 1214.92,1127.36 1220.4,1129.57 1225.88,1133.57 1231.37,1138.4 1236.85,1142.96 1242.33,1146.13 1247.81,1146.96 1253.29,1144.96 1258.78,1140.33 1264.26,1134.03 1269.74,1127.2 1275.22,1119.03 1280.7,1112.34 1286.19,1107.17 1291.67,1101.41"/>
<polyline class="ln" stroke="#00BF7D" points="825.7,1102.59 831.18,1100.29 836.66,1097.99 842.14,1095.69 847.63,1093.47 853.11,1091.69 858.59,1090.77 864.07,1091.16 869.55,1093.23 875.04,1097.01 880.52,1101.99 886,1107.15 891.48,1111.22 896.96,1113 902.45,1111.46 907.93,1106.47 913.41,1099.22 918.89,1091.35 924.37,1084.15 929.86,1078.54 935.34,1075.2 940.82,1074.38 946.3,1076.12 951.78,1080.71 957.27,1089.11 962.75,1103.29 968.23,1124.58 973.71,1152.37 979.19,1184.93 984.68,1219.56 990.16,1252.03 995.64,1273.4 1001.12,1277.18 1006.6,1261.94 1012.09,1226.8 1017.57,1173.51 1023.05,1107.08 1028.53,1036.3 1034.01,971.83 1039.5,924.88 1044.98,903.81 1050.46,912.4 1055.94,950.84 1061.42,1010.99 1066.91,1081.77 1072.39,1154.34 1077.87,1219.47 1083.35,1270.48 1088.83,1303.61 1094.32,1317.66 1099.8,1313.57 1105.28,1296.26 1110.76,1272.25 1116.24,1246.37 1121.73,1222.83 1127.21,1204.44 1132.69,1192 1138.17,1184.08 1143.65,1178.41 1149.14,1173.38 1154.62,1168.19 1160.1,1162.43 1165.58,1155.9 1171.06,1149 1176.55,1142.56 1182.03,1136.98 1187.51,1132.43 1192.99,1129.04 1198.47,1126.95 1203.96,1126.58 1209.44,1128.29 1214.92,1131.81 1220.4,1136.47 1225.88,1141.17 1231.37,1144.7 1236.85,1146.02 1242.33,1144.6 1247.81,1140.56 1253.29,1134.8 1258.78,1128.49 1264.26,1122.68 1269.74,1118.44 1275.22,1115.95 1280.7,1116.91 1286.19,1119.9 1291.67,1122.18"/>
<polyline class="ln" stroke="#00C0AF" points="825.7,1106.27 831.18,1106.17 836.66,1106.07 842.14,1105.97 847.63,1105.88 853.11,1106.02 858.59,1106.52 864.07,1107.52 869.55,1108.99 875.04,1110.87 880.52,1113.1 886,1115.53 891.48,1117.98 896.96,1120.12 902.45,1121.65 907.93,1122.35 913.41,1122.06 918.89,1120.7 924.37,1118.43 929.86,1115.59 935.34,1112.25 940.82,1108.16 946.3,1103.01 951.78,1096.67 957.27,1089.45 962.75,1082.14 968.23,1075.62 973.71,1070.83 979.19,1068.26 984.68,1067.7 990.16,1068.67 995.64,1070.55 1001.12,1071.59 1006.6,1069.43 1012.09,1062.31 1017.57,1049.39 1023.05,1031.03 1028.53,1009.24 1034.01,985.56 1039.5,963.87 1044.98,951.08 1050.46,954.2 1055.94,977.91 1061.42,1021.1 1066.91,1078.92 1072.39,1145.27 1077.87,1213.33 1083.35,1276.33 1088.83,1328.3 1094.32,1365.19 1099.8,1383.23 1105.28,1381.54 1110.76,1364.36 1116.24,1338.29 1121.73,1310.41 1127.21,1284.42 1132.69,1261.89 1138.17,1243.95 1143.65,1230.53 1149.14,1220.64 1154.62,1212.84 1160.1,1205.81 1165.58,1198.68 1171.06,1191.25 1176.55,1184 1182.03,1177.14 1187.51,1170.53 1192.99,1164.33 1198.47,1158.82 1203.96,1154.18 1209.44,1150.56 1214.92,1148.05 1220.4,1146.53 1225.88,1145.66 1231.37,1144.9 1236.85,1143.63 1242.33,1141.33 1247.81,1137.88 1253.29,1133.43 1258.78,1128.26 1264.26,1122.84 1269.74,1117.81 1275.22,1112.69 1280.7,1107.65 1286.19,1102.62 1291.67,1097.59"/>
<polyline class="ln" stroke="#00BCD8" points="825.7,1110.55 831.18,1109.44 836.66,1108.33 842.14,1107.22 847.63,1106.14 853.11,1105.3 858.59,1104.83 864.07,1104.99 869.55,1105.98 875.04,1107.93 880.52,1110.8 886,1114.3 891.48,1117.92 896.96,1120.9 902.45,1122.54 907.93,1122.54 913.41,1120.95 918.89,1118.17 924.37,1114.77 929.86,1111.23 935.34,1107.79 940.82,1104.36 946.3,1100.66 951.78,1096.6 957.27,1092.52 962.75,1089.2 968.23,1087.56 973.71,1088.46 979.19,1092.48 984.68,1099.5 990.16,1108.53 995.64,1117.79 1001.12,1124.58 1006.6,1125.65 1012.09,1118.21 1017.57,1100.49 1023.05,1072.51 1028.53,1036.8 1034.01,996.7 1039.5,958.56 1044.98,931.25 1050.46,923.19 1055.94,940.18 1061.42,981.19 1066.91,1041.15 1072.39,1113.81 1077.87,1191.35 1083.35,1265.21 1088.83,1327.36 1094.32,1371.98 1099.8,1394.83 1105.28,1395.61 1110.76,1378.86 1116.24,1351.25 1121.73,1320.67 1127.21,1291.52 1132.69,1265.74 1138.17,1245.15 1143.65,1230.08 1149.14,1219.57 1154.62,1211.78 1160.1,1204.92 1165.58,1197.99 1171.06,1190.82 1176.55,1183.79 1182.03,1176.99 1187.51,1170.42 1192.99,1164.33 1198.47,1159 1203.96,1154.57 1209.44,1151.23 1214.92,1149.15 1220.4,1148.17 1225.88,1147.87 1231.37,1147.75 1236.85,1147.15 1242.33,1145.49 1247.81,1142.54 1253.29,1138.45 1258.78,1133.61 1264.26,1128.48 1269.74,1123.5 1275.22,1118.26 1280.7,1113.14 1286.19,1108.01 1291.67,1102.89"/>
<polyline class="ln" stroke="#00B0F6" points="825.7,1113.91 831.18,1112.04 836.66,1110.17 842.14,1108.3 847.63,1106.41 853.11,1104.93 858.59,1103.89 864.07,1103.56 869.55,1104.27 875.04,1106.21 880.52,1109.32 886,1113.21 891.48,1117.15 896.96,1120.25 902.45,1121.78 907.93,1121.42 913.41,1119.36 918.89,1116.14 924.37,1112.35 929.86,1108.45 935.34,1104.69 940.82,1100.98 946.3,1097.03 951.78,1092.91 957.27,1089.26 962.75,1087.17 968.23,1087.66 973.71,1091.35 979.19,1098.34 984.68,1108.23 990.16,1119.89 995.64,1131.55 1001.12,1137.74 1006.6,1132.62 1012.09,1113.87 1017.57,1081.37 1023.05,1038.25 1028.53,990.17 1034.01,944.52 1039.5,910.81 1044.98,898.58 1050.46,914.49 1055.94,958.11 1061.42,1024.77 1066.91,1106.02 1072.39,1190.37 1077.87,1268.49 1083.35,1332.29 1088.83,1379.96 1094.32,1404.53 1099.8,1402.63 1105.28,1383.15 1110.76,1354.26 1116.24,1324.19 1121.73,1297.07 1127.21,1273.38 1132.69,1254.29 1138.17,1239.75 1143.65,1228.84 1149.14,1220.23 1154.62,1212.7 1160.1,1205.58 1165.58,1199.03 1171.06,1192.87 1176.55,1186.35 1182.03,1179.39 1187.51,1172.38 1192.99,1165.89 1198.47,1160.4 1203.96,1156.26 1209.44,1153.64 1214.92,1152.43 1220.4,1152.12 1225.88,1152.03 1231.37,1151.55 1236.85,1150.04 1242.33,1147.15 1247.81,1142.9 1253.29,1137.47 1258.78,1131.34 1264.26,1125.17 1269.74,1119.64 1275.22,1114.73 1280.7,1110.48 1286.19,1106.22 1291.67,1101.96"/>
<polyline class="ln" stroke="#619CFF" points="825.7,1104.18 831.18,1101.67 836.66,1099.15 842.14,1096.63 847.63,1094.02 853.11,1091.71 858.59,1089.8 864.07,1088.79 869.55,1089.23 875.04,1091.59 880.52,1095.86 886,1101.33 891.48,1106.67 896.96,1110.03 902.45,1109.95 907.93,1106.08 913.41,1099.14 918.89,1090.63 924.37,1082.29 929.86,1075.44 935.34,1070.89 940.82,1069.06 946.3,1070.15 951.78,1074.43 957.27,1082.93 962.75,1097.67 968.23,1120.24 973.71,1150.48 979.19,1186.59 984.68,1225.63 990.16,1263.7 995.64,1294.72 1001.12,1310.9 1006.6,1306.08 1012.09,1277.3 1017.57,1224.72 1023.05,1152.72 1028.53,1070.87 1034.01,991.47 1039.5,927 1044.98,887.78 1050.46,880.65 1055.94,907.93 1061.42,965.21 1066.91,1041.39 1072.39,1122.86 1077.87,1198.07 1083.35,1258.73 1088.83,1299.81 1094.32,1319.59 1099.8,1319.07 1105.28,1302.72 1110.76,1277.11 1116.24,1248.74 1121.73,1223.23 1127.21,1203.99 1132.69,1191.58 1138.17,1183.92 1143.65,1178.35 1149.14,1173.25 1154.62,1167.94 1160.1,1162.14 1165.58,1155.61 1171.06,1148.79 1176.55,1142.47 1182.03,1136.9 1187.51,1132.11 1192.99,1128.28 1198.47,1125.79 1203.96,1125.2 1209.44,1126.83 1214.92,1130.37 1220.4,1135.08 1225.88,1139.93 1231.37,1143.69 1236.85,1145.31 1242.33,1144.28 1247.81,1140.66 1253.29,1135.12 1258.78,1128.79 1264.26,1122.93 1269.74,1118.86 1275.22,1116.76 1280.7,1120.08 1286.19,1127.48 1291.67,1133.47"/>
<polyline class="ln" stroke="#B983FF" points="825.7,1113.49 831.18,1113.73 836.66,1113.97 842.14,1114.21 847.63,1114.39 853.11,1114.46 858.59,1114.43 864.07,1114.45 869.55,1114.59 875.04,1114.91 880.52,1115.45 886,1116.27 891.48,1117.42 896.96,1118.87 902.45,1120.54 907.93,1122.3 913.41,1123.92 918.89,1125.07 924.37,1125.34 929.86,1124.25 935.34,1121.38 940.82,1116.39 946.3,1109.14 951.78,1099.84 957.27,1088.96 962.75,1077.25 968.23,1065.56 973.71,1054.61 979.19,1045 984.68,1037.28 990.16,1031.75 995.64,1028.08 1001.12,1025.19 1006.6,1021.64 1012.09,1016.34 1017.57,1009.02 1023.05,998.95 1028.53,986.87 1034.01,976.01 1039.5,970.4 1044.98,974.68 1050.46,992.95 1055.94,1025.72 1061.42,1070.78 1066.91,1124.95 1072.39,1183.52 1077.87,1241.15 1083.35,1292.79 1088.83,1332.83 1094.32,1357.06 1099.8,1364.61 1105.28,1357.02 1110.76,1338.58 1116.24,1315.48 1121.73,1291.85 1127.21,1269.48 1132.69,1250.18 1138.17,1234.73 1143.65,1223 1149.14,1214.32 1154.62,1207.76 1160.1,1202.35 1165.58,1197.19 1171.06,1191.51 1176.55,1185.03 1182.03,1178.19 1187.51,1171.71 1192.99,1165.91 1198.47,1160.87 1203.96,1156.59 1209.44,1153.01 1214.92,1150.07 1220.4,1147.6 1225.88,1145.32 1231.37,1142.97 1236.85,1140.32 1242.33,1137.17 1247.81,1133.43 1253.29,1129.26 1258.78,1124.96 1264.26,1120.61 1269.74,1116.27 1275.22,1111.95 1280.7,1107.71 1286.19,1103.47 1291.67,1099.22"/>
<polyline class="ln" stroke="#E76BF3" points="825.7,1123.21 831.18,1123.04 836.66,1122.87 842.14,1122.69 847.63,1122.52 853.11,1122.36 858.59,1122.2 864.07,1122.1 869.55,1122.08 875.04,1122.18 880.52,1122.4 886,1122.8 891.48,1123.41 896.96,1124.2 902.45,1125.14 907.93,1126.16 913.41,1127.19 918.89,1128.18 924.37,1128.95 929.86,1129.18 935.34,1128.53 940.82,1126.68 946.3,1123.26 951.78,1118.08 957.27,1111.27 962.75,1103.35 968.23,1094.99 973.71,1086.97 979.19,1080.09 984.68,1075.13 990.16,1072.41 995.64,1071.56 1001.12,1071.62 1006.6,1071.2 1012.09,1068.77 1017.57,1063.18 1023.05,1054.43 1028.53,1043.92 1034.01,1034 1039.5,1027.1 1044.98,1026.22 1050.46,1034.62 1055.94,1053.99 1061.42,1084.08 1066.91,1122.76 1072.39,1166.11 1077.87,1208.86 1083.35,1245.47 1088.83,1271.96 1094.32,1286.82 1099.8,1290.55 1105.28,1284.37 1110.76,1270.58 1116.24,1253.06 1121.73,1235.25 1127.21,1219.41 1132.69,1207.06 1138.17,1198.69 1143.65,1193.64 1149.14,1190.28 1154.62,1187.06 1160.1,1183.28 1165.58,1178.85 1171.06,1173.95 1176.55,1168.76 1182.03,1163.74 1187.51,1159.33 1192.99,1155.47 1198.47,1152.01 1203.96,1148.88 1209.44,1146.13 1214.92,1143.82 1220.4,1141.95 1225.88,1140.3 1231.37,1138.62 1236.85,1136.69 1242.33,1134.43 1247.81,1131.83 1253.29,1128.97 1258.78,1125.99 1264.26,1122.99 1269.74,1119.98 1275.22,1116.91 1280.7,1113.99 1286.19,1111.07 1291.67,1108.15"/>
<polyline class="ln" stroke="#FD61D1" points="825.7,1121.05 831.18,1121.21 836.66,1121.38 842.14,1121.54 847.63,1121.7 853.11,1121.81 858.59,1121.86 864.07,1121.98 869.55,1122.27 875.04,1122.71 880.52,1123.18 886,1123.6 891.48,1124.04 896.96,1124.61 902.45,1125.32 907.93,1126.1 913.41,1126.91 918.89,1127.61 924.37,1128.02 929.86,1127.97 935.34,1127.28 940.82,1125.67 946.3,1122.68 951.78,1117.89 957.27,1111.42 962.75,1103.83 968.23,1095.81 973.71,1088.08 979.19,1081.39 984.68,1076.44 990.16,1073.51 995.64,1072.32 1001.12,1072.06 1006.6,1071.52 1012.09,1069.32 1017.57,1064.21 1023.05,1055.85 1028.53,1045.14 1034.01,1034.09 1039.5,1025.59 1044.98,1023.17 1050.46,1029.78 1055.94,1046.99 1061.42,1075 1066.91,1112.44 1072.39,1156.21 1077.87,1201.55 1083.35,1242.48 1088.83,1273.8 1094.32,1292.91 1099.8,1299.6 1105.28,1295.27 1110.76,1282.71 1116.24,1265.39 1121.73,1246.3 1127.21,1227.99 1132.69,1212.6 1138.17,1201.49 1143.65,1194.7 1149.14,1190.68 1154.62,1187.28 1160.1,1183.37 1165.58,1178.8 1171.06,1173.78 1176.55,1168.57 1182.03,1163.64 1187.51,1159.48 1192.99,1155.97 1198.47,1152.83 1203.96,1149.93 1209.44,1147.32 1214.92,1145.1 1220.4,1143.22 1225.88,1141.5 1231.37,1139.66 1236.85,1137.5 1242.33,1134.95 1247.81,1132.03 1253.29,1128.97 1258.78,1125.98 1264.26,1123.03 1269.74,1120.15 1275.22,1117.28 1280.7,1114.55 1286.19,1111.81 1291.67,1109.08"/>
<polyline class="ln" stroke="#FF67A4" points="825.7,1124.33 831.18,1123.97 836.66,1123.62 842.14,1123.26 847.63,1122.9 853.11,1122.56 858.59,1122.25 864.07,1122.02 869.55,1121.91 875.04,1121.93 880.52,1122.13 886,1122.55 891.48,1123.23 896.96,1124.1 902.45,1125.02 907.93,1125.9 913.41,1126.7 918.89,1127.38 924.37,1127.85 929.86,1127.88 935.34,1127.18 940.82,1125.42 946.3,1122.22 951.78,1117.37 957.27,1111.04 962.75,1103.64 968.23,1095.72 973.71,1087.96 979.19,1081.17 984.68,1076.1 990.16,1073.11 995.64,1071.91 1001.12,1071.46 1006.6,1070.22 1012.09,1066.66 1017.57,1059.79 1023.05,1049.7 1028.53,1037.57 1034.01,1025.48 1039.5,1016.09 1044.98,1012.66 1050.46,1018.88 1055.94,1037.37 1061.42,1068.73 1066.91,1111.1 1072.39,1160.26 1077.87,1210.36 1083.35,1254.93 1088.83,1288.77 1094.32,1309.4 1099.8,1316.64 1105.28,1311.65 1110.76,1296.82 1116.24,1275.92 1121.73,1253.11 1127.21,1232.24 1132.69,1216.13 1138.17,1205.61 1143.65,1199.78 1149.14,1196.6 1154.62,1193.82 1160.1,1190.29 1165.58,1185.83 1171.06,1180.63 1176.55,1174.92 1182.03,1168.98 1187.51,1163.28 1192.99,1158.29 1198.47,1154.27 1203.96,1151.01 1209.44,1148.06 1214.92,1145.33 1220.4,1142.82 1225.88,1140.48 1231.37,1138.17 1236.85,1135.67 1242.33,1132.83 1247.81,1129.64 1253.29,1126.37 1258.78,1123.26 1264.26,1120.34 1269.74,1117.61 1275.22,1114.99 1280.7,1112.48 1286.19,1109.97 1291.67,1107.46"/>
<text class="t" x="802.4" y="788">2nd Derivative</text>
<text class="st" x="802.4" y="830">Linear baseline removed</text>
<text class="ax" text-anchor="end" x="788.8" y="1438">-0.006</text>
<text class="ax" text-anchor="end" x="788.8" y="1285">-0.003</text>
<text class="ax" text-anchor="end" x="788.8" y="1132">0.000</text>
<text class="ax" text-anchor="end" x="788.8" y="979">0.003</text>
<text class="ax" text-anchor="middle" x="820.22" y="1467">0</text>
<text class="ax" text-anchor="middle" x="957.27" y="1467">25</text>
<text class="ax" text-anchor="middle" x="1094.32" y="1467">50</text>
<text class="ax" text-anchor="middle" x="1231.37" y="1467">75</text>
<text class="at" text-anchor="middle" x="1058.7" y="1501">Wavelength</text>
<text class="at" text-anchor="middle" transform="translate(700 1144) rotate(-90)">Signal</text>
</g>
</svg>
</body>
</html>
